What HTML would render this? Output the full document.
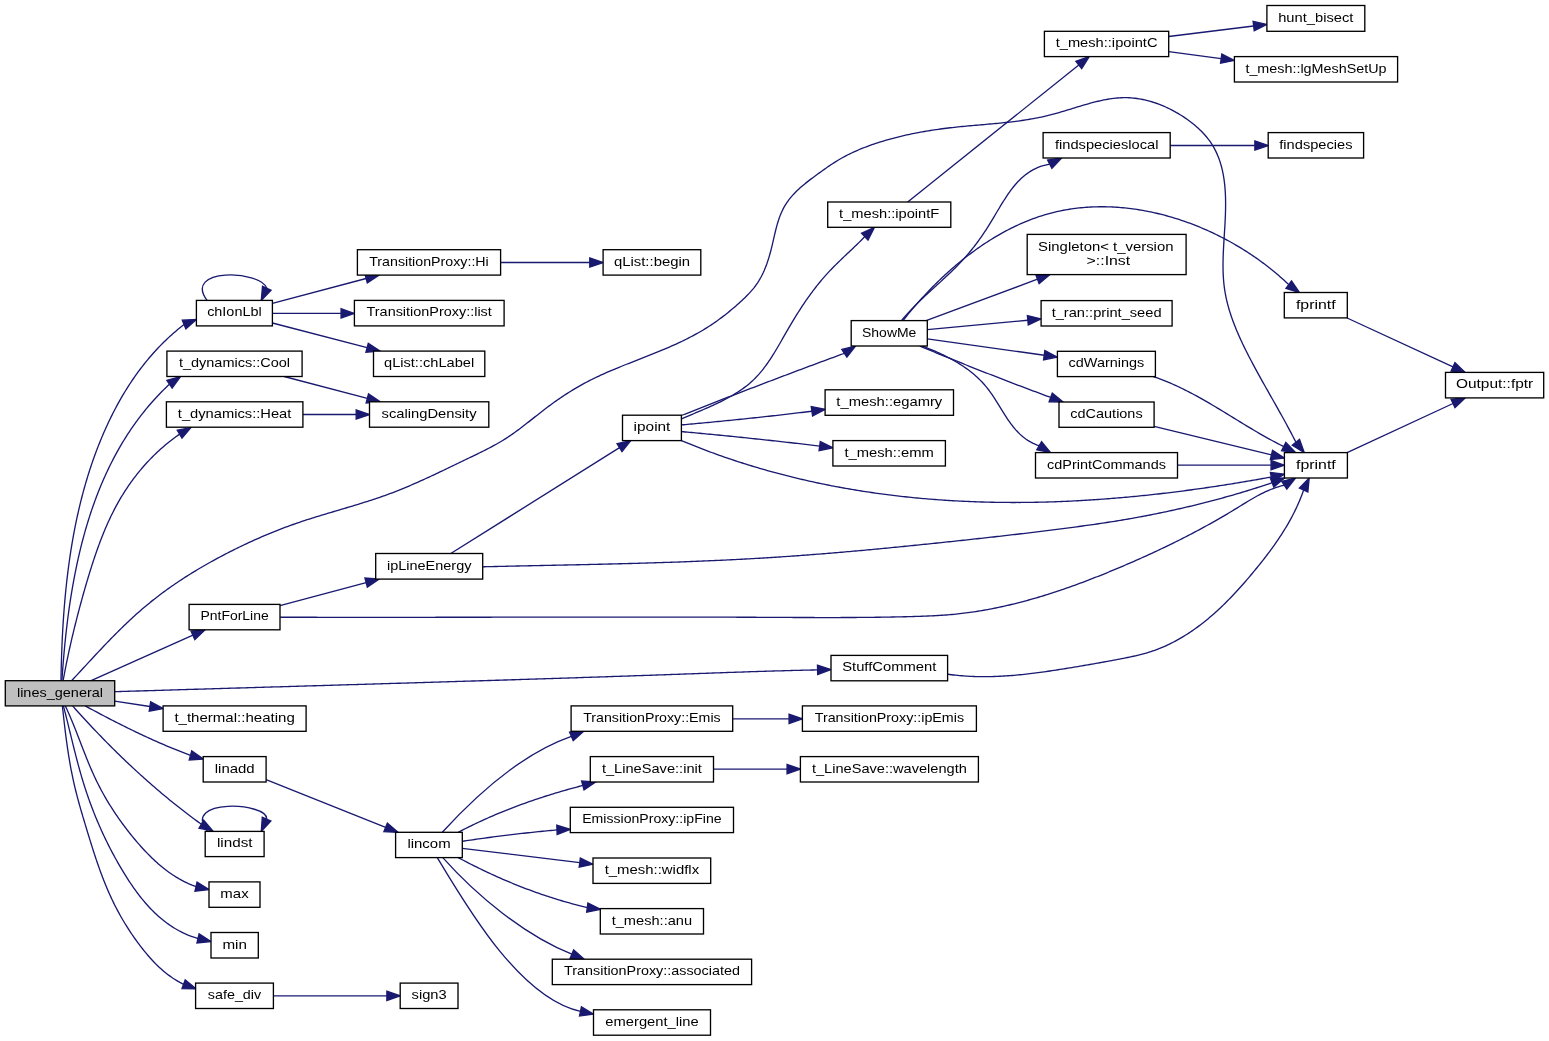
<!DOCTYPE html><html><head><meta charset="utf-8"><style>html,body{margin:0;padding:0;background:#fff;overflow:hidden}svg{display:block}</style></head><body>
<svg width="1549" height="1041" viewBox="0 0 1549 1041">
<rect width="1549" height="1041" fill="#ffffff"/>
<g fill="none" stroke="#191970" stroke-width="1.33">
<path d="M61.00,680.70L61.03,678.72L61.06,676.74L61.10,674.76L61.14,672.77L61.18,670.78L61.22,668.79L61.27,666.80L61.32,664.81L61.37,662.81L61.43,660.82L61.49,658.82L61.55,656.82L61.62,654.82L61.69,652.82L61.76,650.81L61.84,648.81L61.92,646.80L62.00,644.79L62.09,642.78L62.18,640.77L62.27,638.76L62.37,636.75L62.47,634.73L62.58,632.72L62.69,630.70L62.80,628.69L62.92,626.67L63.04,624.65L63.17,622.64L63.30,620.62L63.43,618.60L63.57,616.58L63.72,614.56L63.87,612.53L64.02,610.51L64.18,608.49L64.34,606.47L64.50,604.45L64.68,602.42L64.85,600.40L65.03,598.38L65.22,596.35L65.41,594.33L65.61,592.31L65.81,590.29L66.01,588.26L66.23,586.24L66.44,584.22L66.66,582.20L66.89,580.18L67.13,578.15L67.36,576.13L67.61,574.11L67.86,572.09L68.11,570.08L68.38,568.06L68.64,566.04L68.92,564.02L69.19,562.01L69.48,559.99L69.77,557.98L70.07,555.97L70.37,553.95L70.68,551.94L70.99,549.93L71.32,547.92L71.64,545.92L71.98,543.91L72.32,541.91L72.67,539.90L73.02,537.90L73.38,535.90L73.75,533.90L74.12,531.90L74.50,529.91L74.89,527.91L75.29,525.92L75.69,523.93L76.10,521.94L76.51,519.96L76.94,517.97L77.37,515.99L77.81,514.01L78.25,512.03L78.70,510.05L79.16,508.08L79.63,506.11L80.11,504.14L80.59,502.17L81.08,500.20L81.58,498.24L82.08,496.28L82.60,494.32L83.12,492.37L83.65,490.42L84.18,488.47L84.73,486.52L85.28,484.58L85.84,482.64L86.41,480.70L86.99,478.76L87.58,476.83L88.17,474.90L88.78,472.98L89.39,471.05L90.01,469.13L90.64,467.22L91.28,465.30L91.93,463.39L92.58,461.49L93.25,459.59L93.92,457.69L94.60,455.79L95.29,453.90L95.99,452.01L96.70,450.13L97.42,448.25L98.15,446.37L98.89,444.50L99.64,442.63L100.39,440.76L101.16,438.90L101.93,437.04L102.72,435.19L103.51,433.34L104.32,431.50L105.13,429.66L105.96,427.82L106.79,425.99L107.63,424.16L108.49,422.34L109.35,420.52L110.23,418.71L111.11,416.91L112.01,415.10L112.91,413.31L113.83,411.52L114.75,409.73L115.69,407.95L116.64,406.18L117.60,404.41L118.57,402.65L119.55,400.90L120.54,399.15L121.54,397.41L122.55,395.68L123.58,393.95L124.61,392.23L125.66,390.52L126.72,388.81L127.79,387.12L128.87,385.43L129.96,383.74L131.07,382.07L132.19,380.40L133.32,378.75L134.46,377.10L135.61,375.46L136.77,373.82L137.95,372.20L139.14,370.59L140.34,368.98L141.56,367.39L142.78,365.80L144.02,364.22L145.27,362.65L146.54,361.10L147.81,359.55L149.10,358.01L150.41,356.48L151.72,354.97L153.05,353.46L154.39,351.96L155.75,350.48L157.11,349.00L158.49,347.54L159.89,346.09L161.30,344.65L162.72,343.22L164.15,341.80L165.60,340.40L167.06,339.00L168.54,337.62L170.03,336.25L171.54,334.89L173.05,333.55L174.59,332.21L176.13,330.89L177.69,329.59L179.27,328.29L180.86,327.01L182.46,325.74L184.08,324.49"/><polygon fill="#191970" points="196.40,319.40 185.86,328.81 182.30,320.17"/>
<path d="M61.90,680.70L62.03,678.73L62.17,676.76L62.30,674.78L62.44,672.81L62.59,670.83L62.74,668.85L62.89,666.86L63.04,664.88L63.20,662.89L63.36,660.90L63.53,658.91L63.70,656.91L63.87,654.92L64.05,652.92L64.23,650.92L64.42,648.92L64.61,646.92L64.80,644.91L65.00,642.91L65.21,640.90L65.41,638.90L65.63,636.89L65.84,634.88L66.06,632.87L66.29,630.86L66.52,628.84L66.76,626.83L67.00,624.82L67.24,622.81L67.49,620.79L67.75,618.78L68.01,616.76L68.28,614.75L68.55,612.73L68.83,610.71L69.11,608.70L69.40,606.68L69.70,604.67L70.00,602.65L70.30,600.64L70.61,598.62L70.93,596.61L71.25,594.60L71.58,592.58L71.92,590.57L72.26,588.56L72.61,586.55L72.96,584.54L73.33,582.53L73.69,580.52L74.07,578.52L74.45,576.51L74.84,574.51L75.23,572.51L75.63,570.51L76.04,568.51L76.45,566.51L76.88,564.51L77.30,562.52L77.74,560.53L78.18,558.54L78.64,556.55L79.09,554.56L79.56,552.58L80.03,550.60L80.51,548.62L81.00,546.64L81.50,544.67L82.00,542.70L82.51,540.73L83.03,538.76L83.56,536.80L84.10,534.84L84.64,532.88L85.19,530.92L85.75,528.97L86.32,527.02L86.90,525.08L87.49,523.14L88.08,521.20L88.68,519.26L89.29,517.33L89.92,515.40L90.54,513.48L91.18,511.56L91.83,509.64L92.49,507.73L93.15,505.82L93.83,503.92L94.51,502.02L95.20,500.12L95.91,498.23L96.62,496.35L97.34,494.46L98.07,492.59L98.81,490.71L99.56,488.85L100.32,486.98L101.09,485.12L101.87,483.27L102.66,481.42L103.46,479.58L104.27,477.74L105.09,475.91L105.93,474.08L106.77,472.26L107.62,470.44L108.48,468.63L109.35,466.83L110.24,465.03L111.13,463.23L112.04,461.45L112.95,459.67L113.88,457.89L114.82,456.12L115.77,454.36L116.73,452.60L117.70,450.85L118.68,449.11L119.67,447.37L120.68,445.64L121.70,443.92L122.72,442.20L123.76,440.49L124.81,438.79L125.88,437.09L126.95,435.40L128.04,433.72L129.14,432.04L130.25,430.38L131.37,428.72L132.51,427.06L133.66,425.42L134.82,423.78L135.99,422.15L137.17,420.53L138.37,418.92L139.58,417.31L140.80,415.71L142.04,414.12L143.28,412.54L144.54,410.97L145.82,409.40L147.10,407.85L148.40,406.30L149.72,404.76L151.04,403.23L152.38,401.71L153.74,400.19L155.10,398.69L156.48,397.19L157.87,395.71L159.28,394.23L160.70,392.76L162.14,391.30L163.58,389.85L165.05,388.41L166.52,386.98L168.01,385.56L169.52,384.15"/><polygon fill="#191970" points="180.50,376.60 172.16,388.00 166.87,380.30"/>
<path d="M63.10,680.70L63.46,678.73L63.82,676.76L64.19,674.78L64.57,672.81L64.95,670.84L65.33,668.88L65.72,666.91L66.11,664.94L66.51,662.97L66.92,661.01L67.33,659.04L67.74,657.07L68.16,655.11L68.58,653.15L69.00,651.18L69.44,649.22L69.87,647.26L70.31,645.30L70.76,643.34L71.21,641.38L71.66,639.42L72.12,637.46L72.58,635.50L73.05,633.54L73.52,631.59L73.99,629.63L74.47,627.67L74.95,625.72L75.44,623.76L75.93,621.81L76.43,619.85L76.93,617.90L77.43,615.95L77.94,613.99L78.45,612.04L78.96,610.09L79.48,608.14L80.00,606.19L80.53,604.24L81.06,602.29L81.59,600.34L82.13,598.39L82.67,596.44L83.21,594.50L83.76,592.55L84.31,590.60L84.87,588.66L85.43,586.71L86.00,584.77L86.56,582.83L87.14,580.89L87.72,578.94L88.30,577.01L88.89,575.07L89.48,573.13L90.08,571.20L90.68,569.26L91.29,567.33L91.91,565.40L92.53,563.47L93.15,561.55L93.79,559.63L94.43,557.71L95.08,555.79L95.73,553.88L96.39,551.97L97.07,550.06L97.74,548.16L98.43,546.26L99.13,544.36L99.83,542.47L100.55,540.59L101.27,538.70L102.01,536.83L102.75,534.96L103.50,533.09L104.27,531.23L105.04,529.37L105.83,527.53L106.63,525.68L107.44,523.85L108.26,522.02L109.10,520.19L109.95,518.38L110.81,516.57L111.68,514.77L112.57,512.97L113.47,511.19L114.38,509.41L115.31,507.64L116.25,505.88L117.21,504.13L118.18,502.38L119.17,500.65L120.17,498.92L121.19,497.20L122.22,495.49L123.27,493.80L124.33,492.11L125.41,490.43L126.51,488.76L127.61,487.10L128.74,485.45L129.88,483.81L131.03,482.19L132.20,480.57L133.39,478.96L134.59,477.37L135.81,475.78L137.04,474.21L138.29,472.65L139.55,471.10L140.83,469.56L142.12,468.04L143.43,466.52L144.76,465.02L146.10,463.53L147.45,462.05L148.83,460.59L150.21,459.14L151.62,457.70L153.04,456.27L154.47,454.86L155.92,453.46L157.39,452.07L158.87,450.70L160.37,449.34L161.89,448.00L163.42,446.67L164.97,445.35L166.53,444.05L168.11,442.76L169.70,441.49L171.32,440.23L172.94,438.99L174.59,437.76L176.25,436.55L177.92,435.35L179.62,434.17"/><polygon fill="#191970" points="191.10,427.40 181.99,438.19 177.24,430.14"/>
<path d="M71.60,680.70L72.96,679.25L74.32,677.79L75.67,676.33L77.03,674.87L78.39,673.41L79.75,671.95L81.10,670.48L82.46,669.01L83.82,667.54L85.18,666.08L86.54,664.61L87.90,663.14L89.27,661.67L90.63,660.20L91.99,658.73L93.36,657.26L94.73,655.79L96.10,654.32L97.47,652.86L98.85,651.39L100.23,649.93L101.61,648.47L102.99,647.01L104.38,645.55L105.76,644.10L107.16,642.65L108.55,641.20L109.95,639.76L111.35,638.32L112.76,636.88L114.17,635.45L115.58,634.02L117.00,632.60L118.42,631.18L119.85,629.77L121.28,628.36L122.72,626.95L124.16,625.56L125.61,624.17L127.06,622.78L128.52,621.40L129.98,620.03L131.45,618.66L132.93,617.30L134.41,615.95L135.90,614.61L137.39,613.27L138.89,611.95L140.40,610.63L141.91,609.32L143.43,608.01L144.96,606.72L146.50,605.44L148.04,604.16L149.59,602.89L151.15,601.64L152.71,600.39L154.28,599.15L155.86,597.92L157.44,596.69L159.03,595.48L160.63,594.27L162.23,593.08L163.84,591.89L165.46,590.71L167.08,589.54L168.71,588.37L170.34,587.22L171.98,586.07L173.63,584.93L175.28,583.80L176.93,582.68L178.59,581.56L180.26,580.45L181.94,579.35L183.61,578.26L185.30,577.18L186.99,576.10L188.68,575.03L190.38,573.97L192.08,572.91L193.79,571.86L195.50,570.82L197.22,569.79L198.94,568.76L200.66,567.75L202.39,566.73L204.13,565.73L205.87,564.73L207.61,563.74L209.36,562.75L211.11,561.78L212.86,560.81L214.62,559.84L216.38,558.88L218.14,557.93L219.91,556.99L221.68,556.05L223.46,555.11L225.24,554.19L227.02,553.27L228.80,552.35L230.59,551.44L232.38,550.54L234.17,549.65L235.97,548.76L237.77,547.87L239.57,546.99L241.37,546.12L243.18,545.26L244.99,544.40L246.80,543.55L248.62,542.70L250.44,541.86L252.26,541.03L254.09,540.21L255.91,539.39L257.74,538.58L259.58,537.77L261.41,536.97L263.25,536.18L265.10,535.40L266.94,534.62L268.79,533.85L270.64,533.08L272.49,532.33L274.35,531.58L276.21,530.84L278.07,530.10L279.94,529.38L281.81,528.66L283.68,527.94L285.55,527.24L287.43,526.54L289.31,525.85L291.19,525.17L293.08,524.50L294.97,523.83L296.86,523.17L298.75,522.52L300.65,521.88L302.55,521.24L304.45,520.61L306.36,519.99L308.27,519.37L310.18,518.76L312.09,518.15L314.00,517.55L315.91,516.96L317.83,516.36L319.75,515.78L321.67,515.19L323.59,514.61L325.51,514.03L327.43,513.45L329.35,512.88L331.27,512.31L333.20,511.74L335.12,511.17L337.05,510.60L338.97,510.03L340.89,509.46L342.82,508.89L344.74,508.32L346.66,507.74L348.59,507.17L350.51,506.60L352.43,506.02L354.35,505.44L356.26,504.86L358.18,504.27L360.10,503.68L362.01,503.09L363.92,502.49L365.83,501.89L367.74,501.28L369.65,500.67L371.55,500.05L373.45,499.42L375.35,498.79L377.24,498.15L379.14,497.51L381.03,496.86L382.91,496.19L384.80,495.53L386.68,494.85L388.55,494.16L390.43,493.46L392.30,492.76L394.16,492.04L396.02,491.32L397.88,490.59L399.74,489.85L401.59,489.10L403.44,488.34L405.29,487.58L407.13,486.81L408.97,486.03L410.81,485.24L412.65,484.45L414.48,483.65L416.31,482.85L418.14,482.04L419.97,481.22L421.79,480.40L423.62,479.58L425.44,478.75L427.26,477.91L429.08,477.07L430.90,476.23L432.71,475.38L434.53,474.53L436.34,473.67L438.15,472.82L439.97,471.95L441.78,471.09L443.59,470.23L445.40,469.36L447.21,468.49L449.02,467.62L450.83,466.75L452.63,465.88L454.44,465.00L456.25,464.13L458.06,463.26L459.87,462.38L461.68,461.51L463.49,460.64L465.31,459.76L467.12,458.89L468.93,458.02L470.75,457.15L472.56,456.28L474.37,455.41L476.18,454.53L477.99,453.66L479.80,452.77L481.60,451.88L483.39,450.99L485.19,450.09L486.97,449.18L488.75,448.26L490.53,447.33L492.30,446.38L494.05,445.43L495.80,444.46L497.54,443.48L499.28,442.49L501.00,441.47L502.70,440.45L504.40,439.40L506.09,438.33L507.76,437.25L509.42,436.14L511.07,435.02L512.70,433.88L514.33,432.73L515.95,431.56L517.56,430.38L519.17,429.19L520.76,427.99L522.35,426.78L523.94,425.56L525.52,424.34L527.10,423.10L528.67,421.87L530.25,420.63L531.82,419.38L533.39,418.14L534.96,416.89L536.53,415.65L538.11,414.41L539.69,413.17L541.27,411.93L542.85,410.70L544.44,409.48L546.04,408.27L547.64,407.06L549.25,405.86L550.86,404.67L552.48,403.49L554.11,402.32L555.75,401.16L557.39,400.01L559.03,398.87L560.69,397.74L562.35,396.62L564.02,395.51L565.69,394.41L567.37,393.33L569.06,392.25L570.76,391.19L572.46,390.14L574.17,389.11L575.89,388.09L577.62,387.08L579.35,386.08L581.09,385.10L582.84,384.13L584.60,383.18L586.36,382.25L588.13,381.32L589.91,380.41L591.70,379.51L593.49,378.63L595.29,377.75L597.09,376.89L598.91,376.04L600.72,375.20L602.54,374.37L604.37,373.55L606.20,372.73L608.04,371.93L609.88,371.13L611.72,370.35L613.57,369.56L615.42,368.79L617.27,368.02L619.13,367.26L620.99,366.50L622.85,365.75L624.71,365.00L626.58,364.25L628.44,363.51L630.31,362.77L632.18,362.03L634.05,361.30L635.92,360.56L637.79,359.83L639.66,359.09L641.53,358.36L643.40,357.63L645.27,356.89L647.13,356.15L649.00,355.42L650.86,354.67L652.73,353.93L654.59,353.18L656.44,352.43L658.30,351.67L660.15,350.91L662.00,350.15L663.85,349.37L665.69,348.60L667.53,347.81L669.37,347.02L671.20,346.22L673.03,345.41L674.85,344.59L676.67,343.77L678.48,342.93L680.29,342.08L682.09,341.23L683.89,340.36L685.68,339.48L687.46,338.59L689.24,337.69L691.01,336.77L692.78,335.84L694.53,334.90L696.28,333.94L698.02,332.97L699.76,331.98L701.48,330.98L703.20,329.96L704.90,328.92L706.60,327.87L708.29,326.80L709.97,325.71L711.65,324.60L713.31,323.48L714.96,322.34L716.60,321.18L718.24,320.01L719.86,318.82L721.48,317.61L723.09,316.39L724.69,315.16L726.27,313.91L727.86,312.65L729.43,311.37L730.99,310.08L732.55,308.78L734.10,307.47L735.63,306.14L737.16,304.80L738.69,303.45L740.20,302.09L741.70,300.72L743.18,299.33L744.65,297.93L746.09,296.51L747.51,295.07L748.90,293.62L750.26,292.14L751.59,290.64L752.88,289.12L754.13,287.57L755.33,286.00L756.49,284.40L757.60,282.77L758.66,281.12L759.68,279.44L760.65,277.73L761.58,276.00L762.46,274.24L763.31,272.47L764.12,270.67L764.89,268.85L765.63,267.02L766.34,265.16L767.02,263.29L767.66,261.40L768.28,259.50L768.88,257.59L769.45,255.66L770.00,253.72L770.53,251.77L771.05,249.81L771.54,247.85L772.03,245.87L772.50,243.89L772.96,241.91L773.41,239.92L773.87,237.94L774.32,235.95L774.78,233.97L775.25,232.00L775.73,230.03L776.23,228.07L776.75,226.12L777.29,224.19L777.86,222.27L778.46,220.37L779.09,218.48L779.76,216.62L780.47,214.77L781.23,212.96L782.03,211.16L782.89,209.40L783.80,207.67L784.77,205.96L785.79,204.29L786.87,202.65L788.00,201.04L789.19,199.46L790.41,197.91L791.69,196.39L793.00,194.90L794.36,193.44L795.75,192.00L797.18,190.59L798.65,189.21L800.14,187.85L801.66,186.51L803.20,185.20L804.76,183.90L806.35,182.63L807.95,181.36L809.56,180.12L811.19,178.88L812.82,177.66L814.45,176.45L816.09,175.25L817.73,174.05L819.37,172.86L821.01,171.68L822.65,170.50L824.29,169.34L825.93,168.19L827.58,167.05L829.23,165.92L830.88,164.81L832.55,163.71L834.22,162.63L835.90,161.57L837.60,160.53L839.30,159.51L841.02,158.51L842.75,157.54L844.49,156.59L846.25,155.66L848.02,154.75L849.80,153.87L851.59,153.00L853.39,152.16L855.21,151.34L857.03,150.53L858.87,149.75L860.71,148.98L862.56,148.23L864.42,147.50L866.29,146.78L868.16,146.08L870.04,145.40L871.93,144.73L873.82,144.08L875.72,143.44L877.62,142.81L879.53,142.20L881.45,141.60L883.36,141.02L885.28,140.44L887.21,139.88L889.14,139.34L891.07,138.80L893.01,138.28L894.95,137.77L896.89,137.27L898.84,136.79L900.79,136.31L902.75,135.85L904.70,135.40L906.66,134.95L908.63,134.53L910.59,134.11L912.56,133.70L914.53,133.30L916.50,132.91L918.48,132.54L920.46,132.17L922.44,131.81L924.42,131.47L926.40,131.13L928.38,130.80L930.37,130.48L932.35,130.17L934.34,129.87L936.33,129.58L938.32,129.30L940.31,129.02L942.30,128.75L944.29,128.50L946.29,128.24L948.28,128.00L950.27,127.77L952.26,127.54L954.25,127.32L956.25,127.10L958.24,126.90L960.23,126.70L962.22,126.50L964.21,126.31L966.20,126.12L968.19,125.94L970.18,125.76L972.17,125.58L974.16,125.41L976.15,125.24L978.14,125.07L980.13,124.90L982.12,124.72L984.10,124.55L986.09,124.38L988.08,124.21L990.06,124.03L992.05,123.85L994.03,123.67L996.01,123.49L998.00,123.30L999.98,123.11L1001.96,122.91L1003.94,122.70L1005.92,122.49L1007.90,122.27L1009.88,122.05L1011.86,121.82L1013.84,121.58L1015.82,121.33L1017.79,121.07L1019.77,120.80L1021.74,120.52L1023.72,120.23L1025.69,119.93L1027.66,119.61L1029.63,119.28L1031.60,118.94L1033.57,118.59L1035.54,118.22L1037.51,117.84L1039.47,117.44L1041.44,117.03L1043.40,116.60L1045.37,116.15L1047.33,115.69L1049.29,115.21L1051.25,114.71L1053.21,114.19L1055.16,113.66L1057.12,113.11L1059.08,112.55L1061.03,111.98L1062.98,111.40L1064.94,110.81L1066.89,110.22L1068.84,109.62L1070.79,109.02L1072.74,108.42L1074.69,107.82L1076.64,107.22L1078.59,106.63L1080.53,106.04L1082.48,105.46L1084.43,104.88L1086.37,104.32L1088.32,103.77L1090.26,103.23L1092.21,102.70L1094.15,102.20L1096.10,101.71L1098.04,101.24L1099.99,100.79L1101.93,100.37L1103.88,99.97L1105.82,99.60L1107.77,99.26L1109.71,98.94L1111.66,98.66L1113.60,98.41L1115.55,98.19L1117.49,98.01L1119.44,97.87L1121.38,97.77L1123.33,97.71L1125.28,97.69L1127.22,97.71L1129.17,97.78L1131.12,97.90L1133.07,98.06L1135.01,98.27L1136.96,98.52L1138.90,98.81L1140.84,99.14L1142.78,99.52L1144.71,99.93L1146.64,100.39L1148.57,100.88L1150.49,101.42L1152.41,101.99L1154.31,102.60L1156.22,103.25L1158.11,103.93L1160.00,104.65L1161.88,105.40L1163.75,106.19L1165.61,107.01L1167.46,107.87L1169.31,108.75L1171.14,109.67L1172.96,110.62L1174.76,111.60L1176.56,112.61L1178.34,113.65L1180.11,114.71L1181.87,115.81L1183.61,116.93L1185.33,118.08L1187.04,119.26L1188.72,120.46L1190.37,121.69L1192.01,122.95L1193.62,124.24L1195.19,125.55L1196.74,126.89L1198.26,128.26L1199.74,129.65L1201.19,131.07L1202.61,132.51L1203.98,133.99L1205.31,135.48L1206.60,137.01L1207.85,138.56L1209.05,140.13L1210.20,141.73L1211.31,143.36L1212.36,145.01L1213.37,146.68L1214.32,148.38L1215.23,150.11L1216.09,151.85L1216.91,153.62L1217.68,155.40L1218.41,157.21L1219.09,159.03L1219.73,160.88L1220.34,162.74L1220.90,164.61L1221.43,166.51L1221.92,168.42L1222.37,170.34L1222.79,172.27L1223.17,174.22L1223.52,176.18L1223.84,178.15L1224.13,180.13L1224.39,182.12L1224.62,184.12L1224.82,186.13L1225.00,188.14L1225.15,190.17L1225.28,192.19L1225.39,194.22L1225.47,196.26L1225.53,198.29L1225.57,200.33L1225.60,202.38L1225.60,204.42L1225.59,206.46L1225.57,208.50L1225.53,210.54L1225.47,212.58L1225.41,214.61L1225.33,216.65L1225.25,218.68L1225.15,220.71L1225.05,222.73L1224.94,224.76L1224.82,226.78L1224.70,228.80L1224.58,230.81L1224.45,232.83L1224.32,234.84L1224.19,236.85L1224.07,238.86L1223.94,240.87L1223.82,242.87L1223.71,244.87L1223.60,246.87L1223.49,248.87L1223.39,250.86L1223.30,252.86L1223.23,254.85L1223.16,256.84L1223.10,258.82L1223.06,260.81L1223.03,262.79L1223.02,264.77L1223.02,266.75L1223.04,268.72L1223.08,270.70L1223.14,272.67L1223.22,274.64L1223.32,276.60L1223.45,278.57L1223.60,280.53L1223.77,282.49L1223.97,284.45L1224.20,286.41L1224.46,288.36L1224.75,290.31L1225.06,292.26L1225.41,294.21L1225.79,296.16L1226.19,298.10L1226.63,300.04L1227.09,301.98L1227.57,303.91L1228.09,305.85L1228.62,307.78L1229.18,309.70L1229.77,311.62L1230.38,313.54L1231.01,315.46L1231.66,317.37L1232.33,319.28L1233.02,321.18L1233.73,323.08L1234.46,324.98L1235.21,326.87L1235.97,328.75L1236.75,330.64L1237.55,332.51L1238.35,334.38L1239.18,336.25L1240.01,338.11L1240.86,339.97L1241.72,341.82L1242.59,343.67L1243.47,345.51L1244.36,347.34L1245.26,349.17L1246.17,350.99L1247.08,352.81L1248.00,354.62L1248.93,356.43L1249.86,358.22L1250.79,360.01L1251.73,361.80L1252.67,363.58L1253.62,365.35L1254.57,367.11L1255.52,368.87L1256.47,370.63L1257.42,372.38L1258.38,374.12L1259.34,375.87L1260.30,377.60L1261.27,379.34L1262.23,381.07L1263.20,382.80L1264.17,384.53L1265.14,386.25L1266.11,387.97L1267.08,389.69L1268.05,391.41L1269.03,393.13L1270.00,394.85L1270.97,396.57L1271.95,398.28L1272.92,400.00L1273.90,401.72L1274.87,403.44L1275.84,405.16L1276.82,406.89L1277.79,408.61L1278.76,410.34L1279.73,412.07L1280.70,413.81L1281.66,415.55L1282.63,417.29L1283.59,419.03L1284.55,420.78L1285.51,422.54L1286.47,424.30L1287.43,426.06L1288.38,427.83L1289.33,429.61L1290.28,431.39L1291.23,433.18L1292.17,434.98L1293.11,436.79L1294.04,438.60L1294.97,440.42L1295.90,442.25"/><polygon fill="#191970" points="1304.30,452.60 1292.27,445.19 1299.53,439.31"/>
<path d="M91.10,680.70L192.93,635.23"/><polygon fill="#191970" points="205.10,629.80 194.83,639.50 191.02,630.97"/>
<path d="M114.70,691.70L116.71,691.64L118.72,691.58L120.72,691.52L122.73,691.45L124.74,691.39L126.75,691.33L128.76,691.27L130.77,691.21L132.77,691.15L134.78,691.09L136.79,691.03L138.80,690.97L140.81,690.91L142.82,690.84L144.82,690.78L146.83,690.72L148.84,690.66L150.85,690.60L152.86,690.54L154.87,690.48L156.87,690.42L158.88,690.36L160.89,690.30L162.90,690.24L164.91,690.18L166.91,690.12L168.92,690.06L170.93,690.00L172.94,689.94L174.95,689.88L176.96,689.82L178.96,689.76L180.97,689.70L182.98,689.64L184.99,689.58L187.00,689.52L189.01,689.46L191.01,689.40L193.02,689.34L195.03,689.28L197.04,689.22L199.05,689.16L201.06,689.10L203.06,689.04L205.07,688.98L207.08,688.92L209.09,688.86L211.10,688.80L213.11,688.74L215.11,688.68L217.12,688.62L219.13,688.56L221.14,688.50L223.15,688.44L225.16,688.39L227.16,688.33L229.17,688.27L231.18,688.21L233.19,688.15L235.20,688.09L237.21,688.03L239.21,687.97L241.22,687.91L243.23,687.85L245.24,687.79L247.25,687.73L249.25,687.67L251.26,687.61L253.27,687.55L255.28,687.50L257.29,687.44L259.30,687.38L261.30,687.32L263.31,687.26L265.32,687.20L267.33,687.14L269.34,687.08L271.35,687.02L273.35,686.96L275.36,686.90L277.37,686.85L279.38,686.79L281.39,686.73L283.40,686.67L285.40,686.61L287.41,686.55L289.42,686.49L291.43,686.43L293.44,686.37L295.45,686.31L297.45,686.25L299.46,686.19L301.47,686.14L303.48,686.08L305.49,686.02L307.50,685.96L309.50,685.90L311.51,685.84L313.52,685.78L315.53,685.72L317.54,685.66L319.55,685.60L321.55,685.54L323.56,685.49L325.57,685.43L327.58,685.37L329.59,685.31L331.60,685.25L333.60,685.19L335.61,685.13L337.62,685.07L339.63,685.01L341.64,684.95L343.65,684.89L345.65,684.83L347.66,684.77L349.67,684.71L351.68,684.65L353.69,684.60L355.69,684.54L357.70,684.48L359.71,684.42L361.72,684.36L363.73,684.30L365.74,684.24L367.74,684.18L369.75,684.12L371.76,684.06L373.77,684.00L375.78,683.94L377.79,683.88L379.79,683.82L381.80,683.76L383.81,683.70L385.82,683.64L387.83,683.58L389.84,683.52L391.84,683.46L393.85,683.40L395.86,683.34L397.87,683.28L399.88,683.22L401.89,683.16L403.89,683.10L405.90,683.04L407.91,682.98L409.92,682.92L411.93,682.86L413.93,682.80L415.94,682.74L417.95,682.68L419.96,682.62L421.97,682.56L423.98,682.50L425.98,682.44L427.99,682.38L430.00,682.31L432.01,682.25L434.02,682.19L436.03,682.13L438.03,682.07L440.04,682.01L442.05,681.95L444.06,681.89L446.07,681.83L448.08,681.77L450.08,681.71L452.09,681.64L454.10,681.58L456.11,681.52L458.12,681.46L460.12,681.40L462.13,681.34L464.14,681.28L466.15,681.21L468.16,681.15L470.17,681.09L472.17,681.03L474.18,680.97L476.19,680.91L478.20,680.84L480.21,680.78L482.21,680.72L484.22,680.66L486.23,680.59L488.24,680.53L490.25,680.47L492.26,680.41L494.26,680.35L496.27,680.28L498.28,680.22L500.29,680.16L502.30,680.09L504.31,680.03L506.31,679.97L508.32,679.91L510.33,679.84L512.34,679.78L514.35,679.72L516.35,679.65L518.36,679.59L520.37,679.53L522.38,679.46L524.39,679.40L526.40,679.34L528.40,679.27L530.41,679.21L532.42,679.15L534.43,679.08L536.44,679.02L538.44,678.95L540.45,678.89L542.46,678.82L544.47,678.76L546.48,678.70L548.48,678.63L550.49,678.57L552.50,678.50L554.51,678.44L556.52,678.37L558.53,678.31L560.53,678.24L562.54,678.18L564.55,678.11L566.56,678.05L568.57,677.98L570.57,677.92L572.58,677.85L574.59,677.79L576.60,677.72L578.61,677.65L580.61,677.59L582.62,677.52L584.63,677.46L586.64,677.39L588.65,677.32L590.66,677.26L592.66,677.19L594.67,677.13L596.68,677.06L598.69,676.99L600.70,676.92L602.70,676.86L604.71,676.79L606.72,676.72L608.73,676.66L610.74,676.59L612.74,676.52L614.75,676.45L616.76,676.39L618.77,676.32L620.78,676.25L622.78,676.18L624.79,676.12L626.80,676.05L628.81,675.98L630.82,675.91L632.82,675.84L634.83,675.77L636.84,675.70L638.85,675.64L640.86,675.57L642.86,675.50L644.87,675.43L646.88,675.36L648.89,675.29L650.90,675.22L652.90,675.15L654.91,675.08L656.92,675.01L658.93,674.94L660.94,674.87L662.94,674.80L664.95,674.73L666.96,674.66L668.97,674.59L670.98,674.52L672.98,674.45L674.99,674.38L677.00,674.31L679.01,674.24L681.02,674.16L683.02,674.09L685.03,674.02L687.04,673.95L689.05,673.88L691.06,673.81L693.06,673.73L695.07,673.66L697.08,673.59L699.09,673.52L701.10,673.45L703.10,673.38L705.11,673.30L707.12,673.23L709.13,673.16L711.14,673.09L713.14,673.02L715.15,672.95L717.16,672.88L719.17,672.81L721.18,672.74L723.18,672.67L725.19,672.59L727.20,672.53L729.21,672.46L731.22,672.39L733.22,672.32L735.23,672.25L737.24,672.18L739.25,672.11L741.26,672.04L743.26,671.98L745.27,671.91L747.28,671.84L749.29,671.78L751.30,671.71L753.30,671.65L755.31,671.58L757.32,671.52L759.33,671.45L761.34,671.39L763.35,671.33L765.35,671.27L767.36,671.20L769.37,671.14L771.38,671.08L773.39,671.02L775.39,670.96L777.40,670.91L779.41,670.85L781.42,670.79L783.43,670.73L785.44,670.68L787.44,670.62L789.45,670.57L791.46,670.52L793.47,670.46L795.48,670.41L797.49,670.36L799.50,670.31L801.50,670.26L803.51,670.21L805.52,670.16L807.53,670.12L809.54,670.07L811.55,670.03L813.56,669.98L815.56,669.94L817.57,669.90"/><polygon fill="#191970" points="830.90,669.60 817.68,674.57 817.47,665.23"/>
<path d="M114.70,701.20L149.92,706.51"/><polygon fill="#191970" points="163.10,708.50 149.22,711.13 150.62,701.89"/>
<path d="M85.20,705.90L86.99,706.87L88.79,707.85L90.59,708.82L92.38,709.78L94.18,710.75L95.99,711.71L97.79,712.67L99.59,713.62L101.40,714.58L103.21,715.53L105.02,716.48L106.83,717.42L108.64,718.36L110.46,719.30L112.27,720.23L114.09,721.16L115.91,722.09L117.73,723.01L119.56,723.93L121.38,724.85L123.21,725.76L125.04,726.67L126.87,727.58L128.70,728.48L130.54,729.37L132.38,730.27L134.22,731.15L136.06,732.04L137.90,732.92L139.75,733.79L141.60,734.66L143.45,735.53L145.30,736.39L147.15,737.24L149.01,738.10L150.87,738.94L152.73,739.78L154.59,740.62L156.46,741.45L158.33,742.27L160.20,743.09L162.07,743.91L163.94,744.72L165.82,745.52L167.70,746.32L169.58,747.11L171.47,747.89L173.36,748.67L175.25,749.45L177.14,750.22L179.03,750.98L180.93,751.73L182.83,752.48L184.74,753.22L186.64,753.96L188.55,754.69L190.46,755.41"/><polygon fill="#191970" points="203.30,759.00 189.21,759.91 191.72,750.92"/>
<path d="M72.60,705.90L73.96,707.42L75.32,708.94L76.68,710.46L78.05,711.97L79.42,713.49L80.79,714.99L82.17,716.50L83.54,718.00L84.92,719.50L86.31,721.00L87.70,722.50L89.09,723.99L90.48,725.48L91.87,726.96L93.27,728.45L94.68,729.93L96.08,731.40L97.49,732.88L98.90,734.35L100.32,735.81L101.73,737.28L103.15,738.74L104.58,740.20L106.01,741.65L107.44,743.10L108.87,744.55L110.31,745.99L111.75,747.43L113.19,748.87L114.64,750.31L116.09,751.74L117.54,753.16L119.00,754.59L120.46,756.01L121.92,757.42L123.39,758.84L124.86,760.25L126.33,761.65L127.81,763.05L129.29,764.45L130.77,765.85L132.26,767.24L133.75,768.62L135.24,770.01L136.74,771.38L138.24,772.76L139.75,774.13L141.25,775.50L142.77,776.86L144.28,778.22L145.80,779.58L147.32,780.93L148.85,782.27L150.38,783.62L151.91,784.96L153.45,786.29L154.99,787.62L156.54,788.95L158.08,790.27L159.64,791.59L161.19,792.90L162.75,794.21L164.31,795.51L165.88,796.81L167.45,798.11L169.03,799.40L170.61,800.69L172.19,801.97L173.77,803.25L175.36,804.52L176.96,805.79L178.56,807.05L180.16,808.31L181.76,809.57L183.37,810.82L184.99,812.06L186.61,813.30L188.23,814.54L189.85,815.77L191.48,816.99L193.12,818.22L194.76,819.43L196.40,820.64L198.04,821.85L199.69,823.05L201.35,824.25"/><polygon fill="#191970" points="212.90,830.90 199.02,828.29 203.68,820.20"/>
<path d="M65.30,705.90L66.16,707.74L67.02,709.59L67.85,711.44L68.68,713.30L69.49,715.16L70.30,717.03L71.09,718.90L71.88,720.78L72.65,722.66L73.42,724.54L74.18,726.43L74.94,728.32L75.69,730.21L76.43,732.10L77.17,734.00L77.91,735.89L78.65,737.79L79.38,739.69L80.11,741.59L80.84,743.49L81.58,745.39L82.31,747.29L83.04,749.18L83.78,751.08L84.52,752.97L85.27,754.86L86.02,756.75L86.77,758.64L87.54,760.52L88.31,762.40L89.08,764.28L89.87,766.15L90.66,768.02L91.46,769.88L92.28,771.74L93.11,773.59L93.94,775.44L94.80,777.28L95.66,779.11L96.54,780.94L97.43,782.76L98.34,784.57L99.26,786.37L100.20,788.17L101.15,789.96L102.11,791.75L103.09,793.52L104.08,795.29L105.09,797.05L106.11,798.81L107.14,800.56L108.19,802.30L109.24,804.03L110.31,805.75L111.40,807.47L112.49,809.18L113.60,810.89L114.72,812.59L115.86,814.27L117.00,815.96L118.16,817.63L119.33,819.30L120.51,820.96L121.70,822.61L122.90,824.26L124.12,825.89L125.34,827.52L126.58,829.15L127.83,830.76L129.08,832.37L130.35,833.97L131.63,835.56L132.92,837.14L134.22,838.72L135.54,840.28L136.86,841.84L138.19,843.38L139.54,844.92L140.90,846.44L142.26,847.95L143.64,849.45L145.04,850.94L146.44,852.41L147.85,853.87L149.28,855.32L150.72,856.75L152.17,858.16L153.64,859.56L155.12,860.94L156.62,862.30L158.13,863.64L159.65,864.96L161.19,866.26L162.75,867.54L164.32,868.80L165.91,870.03L167.52,871.24L169.15,872.42L170.79,873.58L172.46,874.71L174.14,875.81L175.84,876.89L177.57,877.93L179.31,878.95L181.07,879.93L182.86,880.88L184.67,881.80L186.50,882.69L188.36,883.55L190.23,884.36L192.13,885.15L194.06,885.89L196.01,886.60"/><polygon fill="#191970" points="209.00,889.60 194.96,891.15 197.06,882.05"/>
<path d="M63.40,705.90L63.92,707.87L64.43,709.84L64.93,711.80L65.44,713.77L65.93,715.74L66.43,717.71L66.92,719.69L67.41,721.66L67.90,723.63L68.39,725.60L68.87,727.57L69.35,729.54L69.84,731.51L70.32,733.48L70.80,735.45L71.28,737.42L71.76,739.39L72.25,741.36L72.73,743.33L73.22,745.29L73.71,747.26L74.20,749.23L74.69,751.19L75.19,753.15L75.69,755.11L76.20,757.07L76.71,759.03L77.22,760.99L77.74,762.94L78.26,764.89L78.79,766.84L79.33,768.79L79.87,770.74L80.42,772.68L80.98,774.63L81.54,776.57L82.11,778.50L82.70,780.44L83.28,782.37L83.88,784.30L84.49,786.23L85.11,788.15L85.73,790.07L86.37,791.99L87.01,793.91L87.67,795.82L88.33,797.73L89.01,799.63L89.69,801.54L90.39,803.44L91.09,805.33L91.80,807.22L92.52,809.11L93.25,811.00L93.99,812.88L94.75,814.76L95.51,816.64L96.28,818.51L97.06,820.38L97.84,822.25L98.64,824.11L99.45,825.97L100.27,827.82L101.10,829.67L101.94,831.52L102.78,833.36L103.64,835.20L104.51,837.04L105.38,838.87L106.27,840.70L107.17,842.52L108.07,844.34L108.99,846.16L109.91,847.97L110.85,849.78L111.80,851.58L112.75,853.38L113.72,855.18L114.69,856.97L115.68,858.76L116.67,860.54L117.67,862.32L118.69,864.09L119.71,865.86L120.75,867.63L121.79,869.39L122.84,871.14L123.91,872.89L124.98,874.64L126.07,876.38L127.17,878.11L128.27,879.83L129.40,881.54L130.53,883.25L131.67,884.95L132.83,886.63L134.00,888.30L135.19,889.97L136.39,891.61L137.61,893.25L138.83,894.87L140.08,896.48L141.34,898.07L142.62,899.64L143.91,901.20L145.22,902.74L146.54,904.26L147.89,905.76L149.25,907.25L150.63,908.71L152.02,910.15L153.44,911.57L154.88,912.96L156.33,914.34L157.81,915.69L159.30,917.01L160.82,918.31L162.35,919.58L163.91,920.83L165.49,922.05L167.09,923.24L168.72,924.40L170.36,925.53L172.03,926.63L173.73,927.70L175.44,928.74L177.19,929.75L178.95,930.72L180.74,931.66L182.56,932.57L184.40,933.44L186.27,934.27L188.16,935.07L190.08,935.83L192.03,936.55L194.01,937.24L196.01,937.88L198.04,938.49"/><polygon fill="#191970" points="211.00,941.60 196.95,943.03 199.13,933.94"/>
<path d="M62.40,705.90L62.61,707.91L62.83,709.93L63.05,711.94L63.26,713.96L63.48,715.97L63.71,717.98L63.93,720.00L64.16,722.01L64.39,724.02L64.63,726.03L64.87,728.04L65.11,730.05L65.36,732.06L65.61,734.07L65.87,736.07L66.13,738.08L66.40,740.08L66.67,742.09L66.95,744.09L67.23,746.09L67.52,748.10L67.82,750.10L68.12,752.09L68.43,754.09L68.75,756.09L69.07,758.08L69.41,760.08L69.75,762.07L70.09,764.06L70.45,766.05L70.82,768.03L71.19,770.02L71.58,772.00L71.97,773.98L72.38,775.96L72.79,777.94L73.21,779.92L73.65,781.89L74.09,783.86L74.55,785.83L75.02,787.80L75.49,789.76L75.98,791.73L76.48,793.69L76.98,795.65L77.50,797.61L78.02,799.57L78.55,801.52L79.09,803.47L79.63,805.43L80.18,807.38L80.74,809.32L81.30,811.27L81.87,813.22L82.44,815.16L83.01,817.11L83.59,819.05L84.17,820.99L84.76,822.93L85.34,824.87L85.93,826.81L86.52,828.75L87.10,830.69L87.69,832.63L88.28,834.56L88.88,836.50L89.47,838.43L90.07,840.37L90.67,842.30L91.27,844.23L91.88,846.16L92.49,848.08L93.10,850.01L93.72,851.93L94.35,853.85L94.98,855.77L95.61,857.69L96.25,859.60L96.90,861.51L97.56,863.42L98.22,865.32L98.89,867.22L99.56,869.12L100.25,871.02L100.94,872.91L101.65,874.80L102.36,876.69L103.08,878.57L103.81,880.44L104.56,882.32L105.31,884.19L106.08,886.05L106.85,887.91L107.64,889.77L108.44,891.62L109.25,893.47L110.08,895.31L110.92,897.14L111.77,898.98L112.64,900.80L113.52,902.62L114.42,904.44L115.33,906.25L116.26,908.05L117.20,909.85L118.16,911.64L119.13,913.43L120.11,915.20L121.11,916.97L122.13,918.74L123.16,920.49L124.20,922.24L125.26,923.98L126.33,925.72L127.41,927.44L128.51,929.15L129.62,930.86L130.74,932.56L131.88,934.25L133.03,935.92L134.19,937.59L135.37,939.25L136.55,940.90L137.76,942.54L138.97,944.17L140.20,945.78L141.43,947.39L142.68,948.98L143.95,950.56L145.22,952.13L146.51,953.69L147.81,955.23L149.13,956.76L150.46,958.27L151.82,959.76L153.18,961.23L154.57,962.68L155.98,964.11L157.40,965.52L158.85,966.91L160.32,968.27L161.81,969.61L163.33,970.92L164.87,972.21L166.43,973.46L168.02,974.69L169.64,975.89L171.28,977.05L172.95,978.19L174.65,979.29L176.38,980.36L178.14,981.40L179.92,982.41L181.74,983.37L183.59,984.31"/><polygon fill="#191970" points="196.10,988.90 181.98,988.69 185.20,979.92"/>
<path d="M207.10,300.40C182.48,267.64 260.52,269.89 266.78,288.25"/><polygon fill="#191970" points="261.30,300.40 262.52,286.33 271.04,290.17"/>
<path d="M272.40,303.30L366.11,278.51"/><polygon fill="#191970" points="379.00,275.10 367.31,283.02 364.92,273.99"/>
<path d="M272.40,313.40L341.07,313.40"/><polygon fill="#191970" points="354.40,313.40 341.07,318.07 341.07,308.73"/>
<path d="M272.40,323.00L367.10,347.73"/><polygon fill="#191970" points="380.00,351.10 365.92,352.25 368.28,343.21"/>
<path d="M284.10,376.50L367.31,398.41"/><polygon fill="#191970" points="380.20,401.80 366.12,402.92 368.50,393.89"/>
<path d="M302.90,414.50L356.17,414.50"/><polygon fill="#191970" points="369.50,414.50 356.17,419.17 356.17,409.83"/>
<path d="M500.60,262.50L589.77,262.50"/><polygon fill="#191970" points="603.10,262.50 589.77,267.17 589.77,257.83"/>
<path d="M280.00,605.60L366.12,582.55"/><polygon fill="#191970" points="379.00,579.10 367.33,587.06 364.92,578.04"/>
<path d="M280.00,617.20L282.01,617.21L284.01,617.21L286.02,617.22L288.03,617.22L290.03,617.23L292.04,617.23L294.04,617.24L296.05,617.24L298.06,617.25L300.06,617.25L302.07,617.26L304.07,617.26L306.08,617.27L308.09,617.27L310.09,617.27L312.10,617.28L314.11,617.28L316.11,617.28L318.12,617.29L320.12,617.29L322.13,617.29L324.14,617.30L326.14,617.30L328.15,617.30L330.15,617.30L332.16,617.31L334.17,617.31L336.17,617.31L338.18,617.31L340.19,617.32L342.19,617.32L344.20,617.32L346.20,617.32L348.21,617.32L350.22,617.32L352.22,617.32L354.23,617.32L356.23,617.33L358.24,617.33L360.25,617.33L362.25,617.33L364.26,617.33L366.26,617.33L368.27,617.33L370.28,617.33L372.28,617.33L374.29,617.33L376.29,617.33L378.30,617.33L380.31,617.33L382.31,617.33L384.32,617.33L386.32,617.33L388.33,617.33L390.33,617.32L392.34,617.32L394.35,617.32L396.35,617.32L398.36,617.32L400.36,617.32L402.37,617.32L404.38,617.32L406.38,617.31L408.39,617.31L410.39,617.31L412.40,617.31L414.41,617.31L416.41,617.31L418.42,617.30L420.42,617.30L422.43,617.30L424.44,617.30L426.44,617.30L428.45,617.29L430.45,617.29L432.46,617.29L434.46,617.29L436.47,617.28L438.48,617.28L440.48,617.28L442.49,617.28L444.49,617.27L446.50,617.27L448.51,617.27L450.51,617.27L452.52,617.26L454.52,617.26L456.53,617.26L458.53,617.26L460.54,617.25L462.55,617.25L464.55,617.25L466.56,617.24L468.56,617.24L470.57,617.24L472.58,617.23L474.58,617.23L476.59,617.23L478.59,617.22L480.60,617.22L482.60,617.22L484.61,617.22L486.62,617.21L488.62,617.21L490.63,617.21L492.63,617.20L494.64,617.20L496.65,617.20L498.65,617.19L500.66,617.19L502.66,617.19L504.67,617.18L506.67,617.18L508.68,617.18L510.69,617.17L512.69,617.17L514.70,617.17L516.70,617.16L518.71,617.16L520.71,617.16L522.72,617.15L524.73,617.15L526.73,617.15L528.74,617.14L530.74,617.14L532.75,617.14L534.76,617.13L536.76,617.13L538.77,617.13L540.77,617.13L542.78,617.12L544.78,617.12L546.79,617.12L548.80,617.11L550.80,617.11L552.81,617.11L554.81,617.11L556.82,617.10L558.83,617.10L560.83,617.10L562.84,617.09L564.84,617.09L566.85,617.09L568.85,617.09L570.86,617.08L572.87,617.08L574.87,617.08L576.88,617.08L578.88,617.08L580.89,617.07L582.90,617.07L584.90,617.07L586.91,617.07L588.91,617.07L590.92,617.06L592.92,617.06L594.93,617.06L596.94,617.06L598.94,617.06L600.95,617.06L602.95,617.05L604.96,617.05L606.97,617.05L608.97,617.05L610.98,617.05L612.98,617.05L614.99,617.05L617.00,617.05L619.00,617.05L621.01,617.04L623.01,617.04L625.02,617.04L627.03,617.04L629.03,617.04L631.04,617.04L633.04,617.04L635.05,617.04L637.06,617.04L639.06,617.04L641.07,617.04L643.07,617.04L645.08,617.04L647.09,617.04L649.09,617.05L651.10,617.05L653.10,617.05L655.11,617.05L657.12,617.05L659.12,617.05L661.13,617.05L663.13,617.05L665.14,617.06L667.15,617.06L669.15,617.06L671.16,617.06L673.16,617.06L675.17,617.07L677.18,617.07L679.18,617.07L681.19,617.07L683.19,617.08L685.20,617.08L687.21,617.08L689.21,617.09L691.22,617.09L693.22,617.09L695.23,617.10L697.24,617.10L699.24,617.10L701.25,617.11L703.26,617.11L705.26,617.12L707.27,617.12L709.27,617.13L711.28,617.13L713.29,617.14L715.29,617.14L717.30,617.15L719.30,617.15L721.31,617.16L723.32,617.16L725.32,617.17L727.33,617.18L729.34,617.18L731.34,617.19L733.35,617.20L735.35,617.20L737.36,617.21L739.37,617.22L741.37,617.22L743.38,617.23L745.39,617.24L747.39,617.25L749.40,617.26L751.41,617.26L753.41,617.27L755.42,617.28L757.42,617.29L759.43,617.30L761.44,617.31L763.44,617.32L765.45,617.33L767.46,617.34L769.46,617.35L771.47,617.36L773.48,617.37L775.48,617.38L777.49,617.39L779.50,617.40L781.50,617.41L783.51,617.42L785.51,617.43L787.52,617.43L789.53,617.44L791.53,617.45L793.54,617.46L795.55,617.47L797.55,617.48L799.56,617.49L801.57,617.49L803.57,617.50L805.58,617.51L807.58,617.51L809.59,617.52L811.60,617.53L813.60,617.53L815.61,617.54L817.62,617.54L819.62,617.54L821.63,617.55L823.63,617.55L825.64,617.55L827.65,617.55L829.65,617.55L831.66,617.55L833.67,617.55L835.67,617.54L837.68,617.54L839.68,617.54L841.69,617.53L843.70,617.53L845.70,617.52L847.71,617.51L849.71,617.50L851.72,617.49L853.72,617.48L855.73,617.47L857.74,617.45L859.74,617.44L861.75,617.42L863.75,617.41L865.76,617.39L867.76,617.37L869.77,617.35L871.77,617.33L873.78,617.31L875.78,617.28L877.79,617.25L879.80,617.23L881.80,617.20L883.81,617.17L885.81,617.14L887.82,617.10L889.82,617.07L891.82,617.03L893.83,616.99L895.83,616.95L897.84,616.91L899.84,616.87L901.85,616.82L903.85,616.78L905.86,616.73L907.86,616.68L909.87,616.63L911.87,616.57L913.87,616.52L915.88,616.46L917.88,616.40L919.89,616.33L921.89,616.27L923.89,616.19L925.90,616.12L927.90,616.03L929.90,615.95L931.90,615.85L933.90,615.75L935.91,615.65L937.91,615.53L939.91,615.41L941.91,615.28L943.90,615.14L945.90,614.99L947.90,614.84L949.90,614.67L951.90,614.49L953.89,614.31L955.89,614.11L957.88,613.90L959.87,613.68L961.87,613.45L963.86,613.21L965.85,612.96L967.84,612.70L969.83,612.42L971.82,612.14L973.80,611.85L975.79,611.55L977.77,611.24L979.75,610.91L981.74,610.58L983.72,610.24L985.69,609.89L987.67,609.53L989.65,609.16L991.62,608.78L993.59,608.40L995.56,608.00L997.53,607.60L999.50,607.18L1001.46,606.76L1003.43,606.33L1005.39,605.89L1007.35,605.44L1009.31,604.99L1011.26,604.52L1013.22,604.05L1015.17,603.57L1017.12,603.08L1019.07,602.59L1021.01,602.09L1022.95,601.58L1024.89,601.06L1026.83,600.53L1028.77,600.00L1030.70,599.46L1032.63,598.92L1034.56,598.36L1036.49,597.80L1038.41,597.24L1040.33,596.66L1042.25,596.08L1044.17,595.50L1046.08,594.90L1048.00,594.30L1049.91,593.70L1051.82,593.09L1053.72,592.47L1055.63,591.84L1057.53,591.21L1059.43,590.58L1061.33,589.93L1063.23,589.29L1065.12,588.63L1067.01,587.98L1068.91,587.31L1070.79,586.64L1072.68,585.97L1074.57,585.29L1076.45,584.60L1078.33,583.91L1080.21,583.22L1082.09,582.52L1083.97,581.81L1085.84,581.10L1087.72,580.39L1089.59,579.67L1091.46,578.95L1093.33,578.22L1095.19,577.49L1097.06,576.75L1098.92,576.01L1100.79,575.27L1102.65,574.52L1104.51,573.77L1106.36,573.01L1108.22,572.25L1110.07,571.49L1111.93,570.72L1113.78,569.95L1115.63,569.18L1117.48,568.40L1119.33,567.62L1121.18,566.84L1123.02,566.05L1124.87,565.26L1126.71,564.47L1128.55,563.68L1130.39,562.88L1132.23,562.08L1134.07,561.27L1135.91,560.46L1137.74,559.65L1139.57,558.83L1141.41,558.01L1143.24,557.19L1145.07,556.37L1146.89,555.54L1148.72,554.70L1150.54,553.87L1152.36,553.03L1154.18,552.18L1156.00,551.34L1157.82,550.49L1159.63,549.63L1161.45,548.77L1163.26,547.91L1165.07,547.04L1166.88,546.17L1168.68,545.30L1170.49,544.42L1172.29,543.54L1174.09,542.65L1175.88,541.76L1177.68,540.87L1179.47,539.97L1181.26,539.07L1183.05,538.16L1184.84,537.25L1186.63,536.34L1188.41,535.42L1190.19,534.50L1191.97,533.57L1193.74,532.64L1195.52,531.70L1197.29,530.76L1199.06,529.82L1200.82,528.87L1202.59,527.91L1204.35,526.95L1206.11,525.99L1207.86,525.02L1209.62,524.05L1211.37,523.08L1213.12,522.09L1214.87,521.11L1216.61,520.12L1218.35,519.12L1220.09,518.12L1221.82,517.12L1223.56,516.11L1225.29,515.09L1227.01,514.07L1228.74,513.05L1230.46,512.02L1232.18,510.98L1233.89,509.94L1235.61,508.90L1237.32,507.85L1239.02,506.79L1240.73,505.74L1242.44,504.68L1244.14,503.63L1245.85,502.58L1247.57,501.53L1249.28,500.50L1251.01,499.48L1252.74,498.46L1254.48,497.47L1256.22,496.49L1257.98,495.53L1259.75,494.59L1261.53,493.67L1263.32,492.78L1265.13,491.91L1266.96,491.08L1268.80,490.28L1270.66,489.51L1272.54,488.77L1274.45,488.08L1276.37,487.42L1278.32,486.80L1280.29,486.23L1282.28,485.71L1284.30,485.23"/><polygon fill="#191970" points="1295.50,478.00 1286.84,489.16 1281.77,481.31"/>
<path d="M450.80,553.50L619.51,447.68"/><polygon fill="#191970" points="630.80,440.60 621.99,451.64 617.03,443.73"/>
<path d="M482.70,566.80L484.70,566.75L486.71,566.70L488.71,566.66L490.71,566.61L492.72,566.57L494.72,566.52L496.73,566.47L498.73,566.43L500.73,566.38L502.74,566.34L504.74,566.29L506.75,566.25L508.75,566.21L510.76,566.16L512.76,566.12L514.76,566.08L516.77,566.03L518.77,565.99L520.78,565.95L522.78,565.90L524.79,565.86L526.79,565.82L528.80,565.78L530.81,565.74L532.81,565.69L534.82,565.65L536.82,565.61L538.83,565.57L540.83,565.53L542.84,565.48L544.84,565.44L546.85,565.40L548.86,565.36L550.86,565.32L552.87,565.28L554.87,565.23L556.88,565.19L558.89,565.15L560.89,565.11L562.90,565.07L564.90,565.02L566.91,564.98L568.92,564.94L570.92,564.89L572.93,564.85L574.94,564.81L576.94,564.77L578.95,564.72L580.96,564.68L582.96,564.63L584.97,564.59L586.97,564.54L588.98,564.50L590.99,564.45L592.99,564.41L595.00,564.36L597.01,564.32L599.01,564.27L601.02,564.22L603.03,564.18L605.03,564.13L607.04,564.08L609.05,564.03L611.05,563.98L613.06,563.93L615.07,563.88L617.07,563.83L619.08,563.78L621.09,563.73L623.09,563.68L625.10,563.63L627.11,563.57L629.11,563.52L631.12,563.47L633.13,563.41L635.13,563.36L637.14,563.30L639.15,563.24L641.15,563.19L643.16,563.13L645.17,563.07L647.17,563.01L649.18,562.95L651.19,562.89L653.19,562.83L655.20,562.77L657.21,562.71L659.21,562.64L661.22,562.58L663.22,562.51L665.23,562.45L667.24,562.38L669.24,562.32L671.25,562.25L673.25,562.18L675.26,562.11L677.27,562.04L679.27,561.97L681.28,561.89L683.28,561.82L685.29,561.75L687.29,561.67L689.30,561.60L691.30,561.52L693.31,561.44L695.32,561.36L697.32,561.28L699.33,561.20L701.33,561.12L703.34,561.03L705.34,560.95L707.35,560.86L709.35,560.78L711.35,560.69L713.36,560.60L715.36,560.51L717.37,560.42L719.37,560.33L721.38,560.24L723.38,560.14L725.39,560.05L727.39,559.95L729.39,559.85L731.40,559.75L733.40,559.65L735.40,559.55L737.41,559.45L739.41,559.34L741.41,559.24L743.42,559.13L745.42,559.02L747.42,558.91L749.43,558.80L751.43,558.69L753.43,558.58L755.43,558.46L757.44,558.35L759.44,558.23L761.44,558.11L763.44,557.99L765.44,557.87L767.45,557.74L769.45,557.62L771.45,557.49L773.45,557.36L775.45,557.23L777.45,557.10L779.45,556.97L781.45,556.84L783.45,556.70L785.45,556.57L787.46,556.43L789.46,556.29L791.46,556.15L793.46,556.01L795.46,555.86L797.46,555.72L799.46,555.57L801.46,555.43L803.46,555.28L805.45,555.13L807.45,554.98L809.45,554.82L811.45,554.67L813.45,554.52L815.45,554.36L817.45,554.20L819.45,554.05L821.45,553.89L823.45,553.73L825.44,553.56L827.44,553.40L829.44,553.24L831.44,553.07L833.44,552.91L835.43,552.74L837.43,552.57L839.43,552.40L841.43,552.23L843.43,552.06L845.42,551.89L847.42,551.71L849.42,551.54L851.42,551.36L853.41,551.18L855.41,551.01L857.41,550.83L859.40,550.65L861.40,550.47L863.40,550.29L865.40,550.10L867.39,549.92L869.39,549.74L871.39,549.55L873.38,549.37L875.38,549.18L877.38,548.99L879.37,548.80L881.37,548.61L883.36,548.42L885.36,548.23L887.36,548.04L889.35,547.85L891.35,547.65L893.35,547.46L895.34,547.26L897.34,547.07L899.33,546.87L901.33,546.67L903.33,546.48L905.32,546.28L907.32,546.08L909.31,545.88L911.31,545.68L913.30,545.47L915.30,545.27L917.30,545.07L919.29,544.87L921.29,544.66L923.28,544.46L925.28,544.25L927.27,544.05L929.27,543.84L931.26,543.63L933.26,543.43L935.26,543.22L937.25,543.01L939.25,542.80L941.24,542.59L943.24,542.38L945.23,542.17L947.23,541.96L949.22,541.75L951.22,541.54L953.21,541.33L955.21,541.11L957.20,540.90L959.20,540.69L961.19,540.47L963.19,540.26L965.18,540.04L967.18,539.83L969.17,539.61L971.17,539.40L973.16,539.18L975.16,538.96L977.15,538.74L979.15,538.52L981.14,538.30L983.14,538.08L985.13,537.86L987.13,537.64L989.12,537.42L991.12,537.20L993.11,536.98L995.11,536.75L997.10,536.53L999.09,536.30L1001.09,536.08L1003.08,535.85L1005.08,535.62L1007.07,535.39L1009.07,535.16L1011.06,534.93L1013.05,534.70L1015.05,534.47L1017.04,534.24L1019.03,534.01L1021.03,533.77L1023.02,533.54L1025.01,533.30L1027.01,533.06L1029.00,532.83L1030.99,532.59L1032.98,532.35L1034.98,532.11L1036.97,531.87L1038.96,531.62L1040.95,531.38L1042.94,531.13L1044.94,530.89L1046.93,530.64L1048.92,530.39L1050.91,530.14L1052.90,529.89L1054.89,529.64L1056.88,529.39L1058.87,529.14L1060.86,528.88L1062.85,528.63L1064.84,528.37L1066.83,528.11L1068.82,527.85L1070.81,527.59L1072.80,527.33L1074.79,527.06L1076.78,526.80L1078.77,526.53L1080.76,526.26L1082.74,525.99L1084.73,525.71L1086.72,525.44L1088.71,525.16L1090.69,524.88L1092.68,524.59L1094.66,524.31L1096.65,524.02L1098.63,523.73L1100.61,523.43L1102.60,523.14L1104.58,522.84L1106.56,522.53L1108.55,522.23L1110.53,521.92L1112.51,521.61L1114.49,521.29L1116.47,520.97L1118.44,520.65L1120.42,520.32L1122.40,519.99L1124.38,519.66L1126.35,519.32L1128.33,518.98L1130.30,518.63L1132.28,518.28L1134.25,517.93L1136.22,517.58L1138.19,517.22L1140.17,516.85L1142.14,516.49L1144.11,516.11L1146.07,515.74L1148.04,515.36L1150.01,514.98L1151.98,514.59L1153.94,514.20L1155.91,513.81L1157.87,513.41L1159.84,513.01L1161.80,512.60L1163.76,512.19L1165.72,511.78L1167.68,511.36L1169.64,510.94L1171.60,510.51L1173.56,510.09L1175.51,509.65L1177.47,509.22L1179.43,508.77L1181.38,508.33L1183.33,507.88L1185.29,507.43L1187.24,506.97L1189.19,506.51L1191.14,506.04L1193.09,505.57L1195.04,505.10L1196.98,504.62L1198.93,504.14L1200.87,503.66L1202.82,503.17L1204.76,502.67L1206.70,502.18L1208.65,501.67L1210.59,501.17L1212.53,500.66L1214.46,500.14L1216.40,499.63L1218.34,499.10L1220.27,498.58L1222.21,498.04L1224.14,497.51L1226.08,496.97L1228.01,496.43L1229.94,495.88L1231.87,495.33L1233.80,494.77L1235.72,494.21L1237.65,493.64L1239.57,493.07L1241.50,492.50L1243.42,491.92L1245.34,491.34L1247.27,490.75L1249.18,490.16L1251.10,489.57L1253.02,488.97L1254.94,488.36L1256.85,487.75L1258.77,487.14L1260.68,486.52L1262.59,485.90L1264.50,485.27L1266.41,484.64L1268.32,484.01L1270.23,483.37L1272.14,482.72"/><polygon fill="#191970" points="1284.60,478.00 1273.79,487.09 1270.48,478.36"/>
<path d="M681.40,419.00L683.18,418.21L684.97,417.42L686.78,416.64L688.60,415.85L690.43,415.07L692.28,414.28L694.13,413.49L695.99,412.70L697.86,411.91L699.74,411.11L701.62,410.31L703.51,409.50L705.40,408.68L707.29,407.85L709.17,407.02L711.06,406.18L712.94,405.32L714.82,404.46L716.70,403.58L718.57,402.69L720.43,401.78L722.28,400.87L724.12,399.93L725.95,398.98L727.76,398.01L729.56,397.02L731.35,396.01L733.12,394.98L734.87,393.94L736.60,392.86L738.31,391.77L740.00,390.65L741.66,389.51L743.30,388.35L744.92,387.15L746.50,385.93L748.06,384.68L749.59,383.41L751.09,382.10L752.56,380.76L753.99,379.39L755.39,377.99L756.76,376.57L758.10,375.11L759.42,373.63L760.70,372.12L761.97,370.59L763.20,369.04L764.42,367.46L765.61,365.87L766.78,364.25L767.93,362.61L769.06,360.96L770.18,359.29L771.28,357.61L772.37,355.92L773.44,354.21L774.50,352.49L775.55,350.75L776.59,349.01L777.63,347.27L778.65,345.51L779.67,343.75L780.69,341.99L781.70,340.22L782.71,338.45L783.72,336.68L784.73,334.91L785.74,333.14L786.75,331.37L787.77,329.61L788.79,327.85L789.82,326.10L790.85,324.35L791.89,322.60L792.94,320.86L793.99,319.13L795.05,317.40L796.11,315.68L797.18,313.96L798.26,312.25L799.35,310.54L800.45,308.85L801.55,307.16L802.66,305.47L803.78,303.80L804.92,302.13L806.06,300.47L807.21,298.81L808.37,297.17L809.54,295.53L810.72,293.90L811.92,292.28L813.12,290.67L814.34,289.07L815.57,287.48L816.81,285.90L818.07,284.33L819.34,282.77L820.62,281.22L821.91,279.67L823.22,278.14L824.54,276.63L825.88,275.12L827.23,273.62L828.60,272.14L829.99,270.66L831.38,269.20L832.79,267.75L834.22,266.31L835.65,264.87L837.09,263.44L838.55,262.02L840.00,260.61L841.47,259.20L842.94,257.80L844.41,256.39L845.89,255.00L847.37,253.60L848.85,252.20L850.32,250.80L851.80,249.40L853.27,248.00L854.74,246.60L856.20,245.20L857.66,243.78L859.10,242.37L860.54,240.95L861.97,239.52L863.38,238.08L864.78,236.63"/><polygon fill="#191970" points="874.40,227.40 868.02,240.00 861.55,233.26"/>
<path d="M681.40,415.50L683.29,414.75L685.17,414.01L687.06,413.26L688.94,412.52L690.83,411.77L692.72,411.03L694.60,410.28L696.49,409.54L698.38,408.80L700.27,408.06L702.15,407.31L704.04,406.57L705.93,405.83L707.82,405.09L709.71,404.35L711.60,403.62L713.49,402.88L715.38,402.14L717.27,401.40L719.15,400.67L721.04,399.93L722.94,399.20L724.83,398.46L726.72,397.73L728.61,396.99L730.50,396.26L732.39,395.53L734.28,394.80L736.17,394.06L738.06,393.33L739.96,392.60L741.85,391.87L743.74,391.15L745.63,390.42L747.53,389.69L749.42,388.96L751.31,388.23L753.21,387.51L755.10,386.78L756.99,386.06L758.89,385.33L760.78,384.61L762.68,383.89L764.57,383.16L766.47,382.44L768.36,381.72L770.26,381.00L772.15,380.28L774.05,379.56L775.95,378.84L777.84,378.12L779.74,377.40L781.64,376.68L783.53,375.96L785.43,375.25L787.33,374.53L789.23,373.81L791.12,373.10L793.02,372.39L794.92,371.67L796.82,370.96L798.72,370.24L800.62,369.53L802.51,368.82L804.41,368.11L806.31,367.40L808.21,366.69L810.11,365.98L812.01,365.27L813.91,364.56L815.81,363.85L817.71,363.15L819.62,362.44L821.52,361.73L823.42,361.03L825.32,360.32L827.22,359.62L829.12,358.91L831.03,358.21L832.93,357.51L834.83,356.81L836.73,356.10L838.64,355.40L840.54,354.70L842.44,354.00L844.35,353.30"/><polygon fill="#191970" points="855.50,346.00 846.91,357.21 841.79,349.40"/>
<path d="M681.40,424.90L683.44,424.72L685.49,424.54L687.53,424.36L689.57,424.18L691.61,423.99L693.66,423.81L695.70,423.62L697.74,423.44L699.78,423.25L701.82,423.06L703.87,422.87L705.91,422.68L707.95,422.49L709.99,422.30L712.03,422.10L714.07,421.91L716.12,421.71L718.16,421.51L720.20,421.31L722.24,421.11L724.28,420.91L726.32,420.71L728.36,420.51L730.40,420.30L732.44,420.10L734.48,419.89L736.52,419.69L738.56,419.48L740.60,419.27L742.64,419.06L744.68,418.84L746.72,418.63L748.76,418.42L750.80,418.20L752.83,417.99L754.87,417.77L756.91,417.55L758.95,417.33L760.99,417.11L763.03,416.89L765.07,416.67L767.10,416.44L769.14,416.22L771.18,415.99L773.22,415.76L775.25,415.54L777.29,415.31L779.33,415.08L781.37,414.84L783.40,414.61L785.44,414.38L787.48,414.14L789.52,413.91L791.55,413.67L793.59,413.43L795.62,413.19L797.66,412.95L799.70,412.71L801.73,412.47L803.77,412.22L805.81,411.98L807.84,411.73L809.88,411.49L811.91,411.24"/><polygon fill="#191970" points="825.10,409.30 812.59,415.86 811.23,406.62"/>
<path d="M681.40,431.60L683.44,431.78L685.47,431.97L687.51,432.15L689.55,432.34L691.58,432.52L693.62,432.71L695.66,432.90L697.69,433.09L699.73,433.28L701.76,433.47L703.80,433.66L705.84,433.85L707.87,434.05L709.91,434.24L711.94,434.44L713.98,434.63L716.01,434.83L718.05,435.03L720.08,435.23L722.12,435.43L724.15,435.63L726.19,435.83L728.22,436.03L730.26,436.24L732.29,436.44L734.32,436.65L736.36,436.85L738.39,437.06L740.43,437.27L742.46,437.48L744.50,437.69L746.53,437.90L748.56,438.11L750.60,438.32L752.63,438.54L754.66,438.75L756.70,438.97L758.73,439.18L760.76,439.40L762.80,439.62L764.83,439.84L766.86,440.06L768.89,440.28L770.93,440.50L772.96,440.72L774.99,440.95L777.02,441.17L779.06,441.40L781.09,441.62L783.12,441.85L785.15,442.08L787.18,442.30L789.22,442.53L791.25,442.77L793.28,443.00L795.31,443.23L797.34,443.46L799.37,443.70L801.40,443.93L803.44,444.17L805.47,444.40L807.50,444.64L809.53,444.88L811.56,445.12L813.59,445.36L815.62,445.60L817.65,445.84L819.68,446.09"/><polygon fill="#191970" points="832.90,447.80 819.08,450.72 820.28,441.46"/>
<path d="M681.40,440.60L683.28,441.39L685.16,442.17L687.05,442.94L688.93,443.71L690.82,444.47L692.71,445.23L694.60,445.98L696.49,446.73L698.38,447.47L700.28,448.21L702.17,448.94L704.07,449.66L705.97,450.38L707.86,451.09L709.76,451.80L711.67,452.50L713.57,453.20L715.47,453.89L717.38,454.58L719.29,455.26L721.19,455.93L723.10,456.60L725.01,457.27L726.92,457.92L728.84,458.58L730.75,459.22L732.67,459.87L734.58,460.50L736.50,461.14L738.42,461.76L740.34,462.38L742.26,463.00L744.18,463.61L746.11,464.21L748.03,464.81L749.96,465.41L751.88,466.00L753.81,466.58L755.74,467.16L757.67,467.73L759.60,468.30L761.54,468.87L763.47,469.42L765.40,469.98L767.34,470.52L769.28,471.07L771.21,471.60L773.15,472.14L775.09,472.66L777.03,473.18L778.98,473.70L780.92,474.21L782.86,474.72L784.81,475.22L786.75,475.72L788.70,476.21L790.65,476.70L792.60,477.18L794.55,477.66L796.50,478.13L798.45,478.59L800.40,479.06L802.36,479.51L804.31,479.96L806.27,480.41L808.23,480.85L810.18,481.29L812.14,481.72L814.10,482.15L816.06,482.57L818.02,482.99L819.98,483.40L821.95,483.81L823.91,484.22L825.87,484.62L827.84,485.01L829.81,485.40L831.77,485.78L833.74,486.16L835.71,486.54L837.68,486.91L839.65,487.27L841.62,487.63L843.59,487.99L845.57,488.34L847.54,488.69L849.51,489.03L851.49,489.37L853.46,489.70L855.44,490.03L857.42,490.35L859.40,490.67L861.37,490.99L863.35,491.30L865.33,491.60L867.31,491.90L869.30,492.20L871.28,492.49L873.26,492.78L875.24,493.06L877.23,493.34L879.21,493.61L881.20,493.88L883.18,494.15L885.17,494.41L887.16,494.67L889.15,494.92L891.13,495.16L893.12,495.41L895.11,495.65L897.10,495.88L899.09,496.11L901.09,496.34L903.08,496.56L905.07,496.78L907.06,496.99L909.06,497.20L911.05,497.40L913.05,497.60L915.04,497.80L917.04,497.99L919.03,498.18L921.03,498.36L923.03,498.54L925.02,498.71L927.02,498.88L929.02,499.05L931.02,499.21L933.02,499.37L935.02,499.53L937.02,499.68L939.02,499.82L941.02,499.96L943.02,500.10L945.03,500.24L947.03,500.37L949.03,500.49L951.03,500.61L953.04,500.73L955.04,500.85L957.05,500.96L959.05,501.06L961.06,501.16L963.06,501.26L965.07,501.36L967.07,501.45L969.08,501.53L971.09,501.61L973.09,501.69L975.10,501.77L977.11,501.84L979.12,501.90L981.12,501.97L983.13,502.03L985.14,502.08L987.15,502.13L989.16,502.18L991.17,502.23L993.18,502.27L995.19,502.30L997.20,502.34L999.21,502.37L1001.22,502.39L1003.23,502.41L1005.24,502.43L1007.25,502.45L1009.26,502.46L1011.27,502.46L1013.29,502.47L1015.30,502.47L1017.31,502.46L1019.32,502.46L1021.33,502.44L1023.35,502.43L1025.36,502.41L1027.37,502.39L1029.38,502.37L1031.40,502.34L1033.41,502.30L1035.42,502.27L1037.43,502.23L1039.45,502.19L1041.46,502.14L1043.47,502.09L1045.49,502.04L1047.50,501.98L1049.51,501.92L1051.52,501.86L1053.54,501.79L1055.55,501.72L1057.56,501.65L1059.58,501.57L1061.59,501.49L1063.60,501.41L1065.62,501.32L1067.63,501.23L1069.64,501.14L1071.65,501.04L1073.67,500.94L1075.68,500.84L1077.69,500.74L1079.71,500.63L1081.72,500.51L1083.73,500.40L1085.74,500.28L1087.75,500.16L1089.77,500.03L1091.78,499.90L1093.79,499.77L1095.80,499.64L1097.81,499.50L1099.82,499.36L1101.83,499.21L1103.85,499.07L1105.86,498.92L1107.87,498.76L1109.88,498.61L1111.89,498.45L1113.90,498.28L1115.91,498.12L1117.92,497.95L1119.92,497.78L1121.93,497.61L1123.94,497.43L1125.95,497.25L1127.96,497.06L1129.97,496.88L1131.97,496.69L1133.98,496.50L1135.99,496.30L1138.00,496.11L1140.00,495.91L1142.01,495.70L1144.01,495.50L1146.02,495.29L1148.02,495.07L1150.03,494.86L1152.03,494.64L1154.04,494.42L1156.04,494.20L1158.04,493.97L1160.05,493.75L1162.05,493.52L1164.05,493.28L1166.05,493.05L1168.05,492.81L1170.06,492.56L1172.06,492.32L1174.06,492.07L1176.05,491.82L1178.05,491.57L1180.05,491.32L1182.05,491.06L1184.05,490.80L1186.05,490.53L1188.04,490.27L1190.04,490.00L1192.03,489.73L1194.03,489.46L1196.02,489.18L1198.02,488.91L1200.01,488.62L1202.00,488.34L1204.00,488.06L1205.99,487.77L1207.98,487.48L1209.97,487.19L1211.96,486.89L1213.95,486.59L1215.94,486.29L1217.93,485.99L1219.92,485.69L1221.90,485.38L1223.89,485.07L1225.88,484.76L1227.86,484.45L1229.85,484.13L1231.83,483.81L1233.81,483.49L1235.80,483.17L1237.78,482.84L1239.76,482.51L1241.74,482.18L1243.72,481.85L1245.70,481.52L1247.68,481.18L1249.66,480.84L1251.63,480.50L1253.61,480.16L1255.59,479.81L1257.56,479.47L1259.53,479.12L1261.51,478.77L1263.48,478.41L1265.45,478.06L1267.42,477.70L1269.39,477.34L1271.36,476.98"/><polygon fill="#191970" points="1284.40,474.20 1272.34,481.55 1270.39,472.41"/>
<path d="M907.70,202.00L1078.80,64.93"/><polygon fill="#191970" points="1089.20,56.60 1081.72,68.58 1075.88,61.29"/>
<path d="M1168.70,36.50L1253.67,26.03"/><polygon fill="#191970" points="1266.90,24.40 1254.24,30.67 1253.10,21.40"/>
<path d="M1168.70,51.60L1221.19,58.63"/><polygon fill="#191970" points="1234.40,60.40 1220.57,63.26 1221.81,54.00"/>
<path d="M901.50,320.60L902.80,319.03L904.11,317.47L905.45,315.93L906.80,314.40L908.16,312.89L909.54,311.39L910.93,309.91L912.34,308.43L913.75,306.97L915.18,305.52L916.62,304.08L918.07,302.65L919.53,301.23L920.99,299.82L922.47,298.41L923.94,297.02L925.43,295.62L926.92,294.24L928.42,292.85L929.91,291.47L931.41,290.10L932.92,288.72L934.42,287.35L935.92,285.98L937.43,284.61L938.93,283.24L940.43,281.87L941.93,280.49L943.42,279.11L944.91,277.73L946.40,276.35L947.87,274.96L949.35,273.57L950.81,272.16L952.27,270.76L953.71,269.34L955.15,267.92L956.58,266.48L957.99,265.04L959.39,263.59L960.78,262.12L962.16,260.65L963.52,259.16L964.87,257.66L966.21,256.15L967.53,254.62L968.83,253.08L970.13,251.54L971.41,249.97L972.67,248.40L973.92,246.81L975.16,245.22L976.39,243.60L977.60,241.98L978.80,240.35L979.98,238.70L981.15,237.04L982.31,235.37L983.46,233.68L984.59,231.98L985.71,230.27L986.81,228.55L987.91,226.82L989.00,225.08L990.07,223.34L991.14,221.58L992.21,219.82L993.27,218.06L994.33,216.30L995.38,214.53L996.43,212.76L997.49,210.99L998.54,209.23L999.60,207.47L1000.66,205.71L1001.73,203.96L1002.81,202.22L1003.89,200.49L1004.99,198.77L1006.10,197.06L1007.22,195.38L1008.36,193.71L1009.52,192.07L1010.70,190.45L1011.90,188.85L1013.12,187.28L1014.37,185.74L1015.65,184.24L1016.96,182.77L1018.30,181.33L1019.67,179.93L1021.07,178.58L1022.51,177.26L1024.00,176.00L1025.52,174.77L1027.08,173.60L1028.69,172.48L1030.34,171.41L1032.04,170.40L1033.78,169.44L1035.58,168.55L1037.44,167.71L1039.34,166.94L1041.31,166.24L1043.33,165.60L1045.41,165.04L1047.55,164.54L1049.76,164.12"/><polygon fill="#191970" points="1061.60,158.00 1051.91,168.27 1047.61,159.98"/>
<path d="M903.00,320.60L904.22,319.06L905.44,317.52L906.68,315.99L907.93,314.45L909.18,312.92L910.45,311.40L911.72,309.87L913.01,308.35L914.31,306.83L915.61,305.32L916.93,303.81L918.25,302.31L919.59,300.81L920.93,299.31L922.28,297.82L923.64,296.33L925.02,294.85L926.40,293.38L927.79,291.91L929.19,290.44L930.59,288.99L932.01,287.53L933.44,286.09L934.87,284.65L936.32,283.22L937.77,281.79L939.23,280.37L940.70,278.96L942.18,277.56L943.67,276.17L945.16,274.78L946.67,273.40L948.18,272.03L949.70,270.67L951.23,269.32L952.77,267.97L954.31,266.64L955.86,265.31L957.43,264.00L958.99,262.69L960.57,261.40L962.16,260.11L963.75,258.84L965.35,257.57L966.96,256.32L968.57,255.08L970.20,253.85L971.83,252.63L973.47,251.42L975.11,250.22L976.77,249.04L978.43,247.87L980.09,246.71L981.77,245.56L983.45,244.42L985.14,243.30L986.83,242.20L988.54,241.10L990.25,240.02L991.96,238.95L993.69,237.90L995.41,236.86L997.15,235.84L998.89,234.83L1000.64,233.83L1002.40,232.85L1004.16,231.89L1005.93,230.94L1007.71,230.01L1009.49,229.09L1011.27,228.19L1013.07,227.30L1014.87,226.43L1016.67,225.58L1018.48,224.75L1020.30,223.93L1022.12,223.13L1023.95,222.34L1025.79,221.58L1027.63,220.83L1029.47,220.10L1031.32,219.39L1033.18,218.70L1035.04,218.02L1036.91,217.37L1038.78,216.73L1040.66,216.11L1042.54,215.51L1044.43,214.94L1046.32,214.38L1048.22,213.84L1050.13,213.32L1052.03,212.82L1053.95,212.35L1055.87,211.89L1057.79,211.45L1059.71,211.03L1061.64,210.64L1063.58,210.26L1065.52,209.90L1067.46,209.57L1069.41,209.25L1071.36,208.95L1073.31,208.67L1075.27,208.41L1077.22,208.17L1079.19,207.95L1081.15,207.75L1083.12,207.56L1085.09,207.40L1087.06,207.25L1089.04,207.13L1091.02,207.02L1093.00,206.93L1094.98,206.86L1096.96,206.80L1098.95,206.77L1100.94,206.75L1102.92,206.75L1104.91,206.77L1106.90,206.81L1108.90,206.87L1110.89,206.94L1112.88,207.03L1114.88,207.14L1116.87,207.26L1118.86,207.40L1120.86,207.56L1122.85,207.74L1124.85,207.93L1126.84,208.14L1128.84,208.37L1130.83,208.61L1132.83,208.87L1134.82,209.15L1136.81,209.44L1138.80,209.75L1140.79,210.08L1142.78,210.42L1144.77,210.78L1146.75,211.16L1148.73,211.55L1150.72,211.95L1152.70,212.37L1154.67,212.81L1156.65,213.26L1158.62,213.73L1160.59,214.22L1162.56,214.71L1164.53,215.23L1166.49,215.76L1168.45,216.30L1170.41,216.86L1172.36,217.43L1174.31,218.02L1176.26,218.62L1178.20,219.24L1180.14,219.87L1182.07,220.52L1184.00,221.18L1185.93,221.85L1187.85,222.54L1189.77,223.24L1191.68,223.96L1193.59,224.69L1195.49,225.43L1197.39,226.19L1199.29,226.96L1201.17,227.75L1203.06,228.54L1204.93,229.35L1206.81,230.18L1208.67,231.01L1210.53,231.86L1212.38,232.72L1214.23,233.60L1216.07,234.49L1217.91,235.39L1219.73,236.30L1221.56,237.22L1223.37,238.16L1225.18,239.11L1226.98,240.07L1228.77,241.04L1230.55,242.03L1232.33,243.03L1234.10,244.03L1235.86,245.05L1237.62,246.09L1239.37,247.13L1241.10,248.18L1242.83,249.25L1244.55,250.33L1246.27,251.41L1247.97,252.51L1249.66,253.62L1251.35,254.74L1253.03,255.87L1254.69,257.02L1256.35,258.17L1258.00,259.33L1259.64,260.50L1261.27,261.69L1262.89,262.88L1264.49,264.08L1266.09,265.30L1267.68,266.52L1269.26,267.75L1270.83,268.99L1272.38,270.24L1273.93,271.51L1275.46,272.78L1276.98,274.06L1278.50,275.35L1280.00,276.64L1281.49,277.95L1282.96,279.27L1284.43,280.59L1285.88,281.92L1287.32,283.27L1288.75,284.62"/><polygon fill="#191970" points="1299.50,292.50 1285.99,288.38 1291.51,280.85"/>
<path d="M926.10,320.60L1037.50,279.24"/><polygon fill="#191970" points="1050.00,274.60 1039.13,283.62 1035.88,274.86"/>
<path d="M927.30,329.60L1027.83,320.24"/><polygon fill="#191970" points="1041.10,319.00 1028.26,324.89 1027.39,315.59"/>
<path d="M927.30,338.80L1044.20,355.24"/><polygon fill="#191970" points="1057.40,357.10 1043.55,359.87 1044.85,350.62"/>
<path d="M919.70,346.00L921.58,346.78L923.47,347.57L925.35,348.35L927.24,349.13L929.12,349.91L931.01,350.69L932.89,351.46L934.78,352.24L936.66,353.01L938.55,353.79L940.44,354.56L942.33,355.33L944.22,356.10L946.10,356.87L947.99,357.64L949.88,358.40L951.77,359.17L953.66,359.93L955.56,360.70L957.45,361.46L959.34,362.22L961.23,362.98L963.12,363.74L965.02,364.50L966.91,365.25L968.81,366.01L970.70,366.76L972.60,367.52L974.49,368.27L976.39,369.02L978.28,369.77L980.18,370.52L982.08,371.27L983.98,372.01L985.87,372.76L987.77,373.50L989.67,374.25L991.57,374.99L993.47,375.73L995.37,376.47L997.27,377.21L999.17,377.94L1001.08,378.68L1002.98,379.42L1004.88,380.15L1006.78,380.88L1008.69,381.61L1010.59,382.35L1012.50,383.08L1014.40,383.80L1016.31,384.53L1018.21,385.26L1020.12,385.98L1022.02,386.71L1023.93,387.43L1025.84,388.15L1027.75,388.87L1029.66,389.59L1031.56,390.31L1033.47,391.03L1035.38,391.74L1037.29,392.46L1039.21,393.17L1041.12,393.88L1043.03,394.59L1044.94,395.30L1046.85,396.01L1048.77,396.72L1050.68,397.43"/><polygon fill="#191970" points="1063.20,402.00 1049.08,401.82 1052.28,393.04"/>
<path d="M922.20,346.00L924.13,346.74L926.05,347.49L927.98,348.26L929.89,349.04L931.81,349.84L933.72,350.64L935.62,351.47L937.52,352.31L939.41,353.17L941.29,354.04L943.16,354.94L945.02,355.85L946.86,356.77L948.70,357.72L950.52,358.69L952.33,359.68L954.13,360.69L955.91,361.72L957.67,362.77L959.41,363.84L961.14,364.94L962.85,366.06L964.54,367.21L966.21,368.38L967.85,369.57L969.48,370.79L971.08,372.04L972.65,373.31L974.20,374.61L975.73,375.94L977.23,377.30L978.70,378.68L980.14,380.10L981.56,381.54L982.94,383.02L984.29,384.53L985.62,386.06L986.90,387.63L988.16,389.24L989.39,390.87L990.59,392.52L991.76,394.20L992.92,395.90L994.05,397.62L995.17,399.35L996.28,401.09L997.38,402.85L998.47,404.60L999.55,406.37L1000.63,408.13L1001.72,409.89L1002.80,411.65L1003.89,413.40L1005.00,415.13L1006.11,416.86L1007.24,418.57L1008.38,420.26L1009.55,421.92L1010.74,423.57L1011.95,425.18L1013.19,426.77L1014.47,428.32L1015.77,429.84L1017.12,431.31L1018.50,432.75L1019.93,434.14L1021.40,435.49L1022.91,436.79L1024.48,438.03L1026.10,439.22L1027.78,440.35L1029.52,441.41L1031.31,442.42L1033.17,443.36L1035.10,444.22L1037.10,445.02L1039.17,445.74"/><polygon fill="#191970" points="1050.60,452.60 1036.77,449.75 1041.57,441.74"/>
<path d="M1170.20,145.50L1254.87,145.50"/><polygon fill="#191970" points="1268.20,145.50 1254.87,150.17 1254.87,140.83"/>
<path d="M1153.40,376.60L1155.34,377.27L1157.27,377.95L1159.19,378.65L1161.10,379.37L1163.00,380.10L1164.89,380.85L1166.78,381.62L1168.66,382.40L1170.53,383.20L1172.39,384.01L1174.24,384.83L1176.09,385.67L1177.93,386.52L1179.76,387.39L1181.59,388.27L1183.41,389.16L1185.23,390.06L1187.03,390.97L1188.84,391.90L1190.63,392.83L1192.43,393.78L1194.21,394.73L1196.00,395.70L1197.77,396.67L1199.55,397.65L1201.32,398.64L1203.08,399.63L1204.84,400.64L1206.60,401.65L1208.36,402.67L1210.11,403.69L1211.86,404.72L1213.60,405.75L1215.35,406.79L1217.09,407.83L1218.83,408.88L1220.56,409.93L1222.30,410.98L1224.03,412.03L1225.77,413.09L1227.50,414.15L1229.23,415.21L1230.96,416.27L1232.69,417.34L1234.42,418.40L1236.15,419.46L1237.89,420.52L1239.62,421.58L1241.35,422.64L1243.08,423.70L1244.82,424.76L1246.55,425.81L1248.29,426.86L1250.03,427.90L1251.77,428.94L1253.52,429.98L1255.26,431.01L1257.01,432.04L1258.76,433.06L1260.52,434.08L1262.28,435.09L1264.04,436.09L1265.81,437.09L1267.58,438.07L1269.35,439.05L1271.13,440.03L1272.91,440.99L1274.70,441.94L1276.49,442.88L1278.29,443.82L1280.10,444.74L1281.91,445.65L1283.72,446.55"/><polygon fill="#191970" points="1295.60,452.60 1281.60,450.71 1285.84,442.39"/>
<path d="M1154.10,426.40L1271.45,454.95"/><polygon fill="#191970" points="1284.40,458.10 1270.34,459.49 1272.55,450.41"/>
<path d="M1177.50,465.20L1271.07,465.20"/><polygon fill="#191970" points="1284.40,465.20 1271.07,469.87 1271.07,460.53"/>
<path d="M947.60,674.20L949.63,674.48L951.65,674.74L953.67,674.98L955.70,675.20L957.72,675.41L959.74,675.60L961.76,675.77L963.78,675.93L965.80,676.07L967.81,676.20L969.83,676.31L971.85,676.40L973.86,676.48L975.88,676.54L977.89,676.59L979.91,676.63L981.92,676.65L983.93,676.65L985.94,676.65L987.95,676.63L989.96,676.60L991.97,676.55L993.98,676.49L995.99,676.42L998.00,676.34L1000.01,676.25L1002.01,676.15L1004.02,676.03L1006.02,675.91L1008.03,675.77L1010.03,675.62L1012.04,675.47L1014.04,675.30L1016.04,675.13L1018.05,674.94L1020.05,674.75L1022.05,674.55L1024.05,674.34L1026.05,674.12L1028.05,673.89L1030.05,673.66L1032.05,673.42L1034.05,673.17L1036.04,672.92L1038.04,672.66L1040.04,672.39L1042.03,672.12L1044.03,671.85L1046.03,671.56L1048.02,671.28L1050.02,670.98L1052.01,670.69L1054.01,670.39L1056.00,670.08L1058.00,669.77L1059.99,669.46L1061.98,669.15L1063.98,668.83L1065.97,668.51L1067.96,668.19L1069.96,667.86L1071.95,667.54L1073.94,667.21L1075.93,666.88L1077.92,666.54L1079.91,666.21L1081.91,665.87L1083.90,665.53L1085.89,665.19L1087.88,664.85L1089.86,664.50L1091.85,664.15L1093.84,663.80L1095.83,663.45L1097.82,663.10L1099.81,662.74L1101.79,662.38L1103.78,662.02L1105.77,661.66L1107.75,661.30L1109.74,660.93L1111.72,660.56L1113.71,660.19L1115.69,659.82L1117.68,659.44L1119.66,659.06L1121.64,658.69L1123.62,658.30L1125.60,657.91L1127.58,657.52L1129.56,657.11L1131.53,656.70L1133.50,656.27L1135.46,655.83L1137.42,655.38L1139.37,654.91L1141.32,654.41L1143.26,653.90L1145.19,653.37L1147.12,652.81L1149.04,652.23L1150.94,651.62L1152.84,650.98L1154.73,650.31L1156.61,649.62L1158.48,648.90L1160.34,648.16L1162.19,647.39L1164.03,646.59L1165.87,645.77L1167.69,644.93L1169.50,644.06L1171.30,643.17L1173.09,642.26L1174.87,641.33L1176.64,640.37L1178.40,639.39L1180.15,638.39L1181.89,637.37L1183.62,636.33L1185.34,635.28L1187.05,634.20L1188.74,633.10L1190.43,631.99L1192.10,630.85L1193.76,629.70L1195.41,628.54L1197.05,627.36L1198.68,626.16L1200.30,624.94L1201.90,623.71L1203.50,622.47L1205.08,621.21L1206.65,619.94L1208.21,618.65L1209.76,617.35L1211.29,616.04L1212.82,614.72L1214.34,613.38L1215.84,612.03L1217.34,610.67L1218.83,609.30L1220.30,607.91L1221.77,606.52L1223.23,605.12L1224.68,603.70L1226.12,602.27L1227.55,600.84L1228.97,599.40L1230.38,597.94L1231.79,596.48L1233.19,595.01L1234.58,593.53L1235.96,592.05L1237.33,590.55L1238.70,589.05L1240.06,587.55L1241.41,586.03L1242.76,584.51L1244.10,582.99L1245.43,581.46L1246.76,579.92L1248.08,578.38L1249.39,576.83L1250.70,575.28L1252.01,573.73L1253.30,572.17L1254.60,570.61L1255.88,569.04L1257.17,567.47L1258.44,565.90L1259.71,564.32L1260.98,562.74L1262.23,561.16L1263.48,559.57L1264.72,557.97L1265.96,556.37L1267.18,554.77L1268.40,553.16L1269.61,551.55L1270.81,549.93L1272.00,548.30L1273.17,546.67L1274.34,545.03L1275.50,543.38L1276.65,541.73L1277.78,540.07L1278.91,538.41L1280.02,536.73L1281.12,535.05L1282.21,533.37L1283.28,531.67L1284.34,529.97L1285.39,528.26L1286.42,526.54L1287.44,524.81L1288.44,523.07L1289.43,521.33L1290.41,519.57L1291.36,517.81L1292.31,516.03L1293.23,514.25L1294.14,512.46L1295.03,510.65L1295.91,508.84L1296.76,507.02L1297.60,505.18L1298.42,503.34L1299.22,501.48L1300.01,499.62L1300.77,497.74L1301.51,495.85L1302.24,493.95L1302.94,492.03L1303.62,490.11"/><polygon fill="#191970" points="1309.20,478.00 1307.86,492.06 1299.38,488.15"/>
<path d="M1347.10,318.00L1452.99,366.82"/><polygon fill="#191970" points="1465.10,372.40 1451.04,371.06 1454.95,362.58"/>
<path d="M1347.10,452.60L1453.01,403.51"/><polygon fill="#191970" points="1465.10,397.90 1454.97,407.74 1451.04,399.27"/>
<path d="M266.10,779.60L385.62,827.35"/><polygon fill="#191970" points="398.00,832.30 383.89,831.69 387.35,823.02"/>
<path d="M207.50,831.40C180.77,797.64 268.61,802.38 266.58,819.16"/><polygon fill="#191970" points="261.30,831.40 262.30,817.31 270.87,821.01"/>
<path d="M442.30,832.30C477.01,794.27 521.90,753.62 571.40,736.43"/><polygon fill="#191970" points="583.70,731.30 573.20,740.74 569.60,732.12"/>
<path d="M458.30,832.30L460.12,831.35L461.94,830.40L463.77,829.46L465.60,828.53L467.43,827.61L469.27,826.70L471.11,825.79L472.96,824.90L474.80,824.01L476.66,823.12L478.51,822.25L480.37,821.38L482.24,820.53L484.10,819.68L485.97,818.83L487.85,818.00L489.72,817.17L491.60,816.35L493.48,815.54L495.37,814.73L497.26,813.93L499.15,813.14L501.05,812.36L502.95,811.58L504.85,810.81L506.75,810.05L508.66,809.30L510.57,808.55L512.48,807.81L514.40,807.08L516.31,806.35L518.23,805.63L520.16,804.92L522.08,804.21L524.01,803.51L525.94,802.82L527.88,802.13L529.81,801.45L531.75,800.78L533.69,800.11L535.63,799.45L537.58,798.80L539.53,798.15L541.48,797.51L543.43,796.88L545.38,796.25L547.34,795.63L549.29,795.02L551.25,794.41L553.21,793.80L555.18,793.21L557.14,792.62L559.11,792.03L561.08,791.45L563.05,790.88L565.02,790.31L566.99,789.75L568.97,789.20L570.94,788.65L572.92,788.10L574.90,787.56L576.88,787.03L578.86,786.50L580.84,785.98L582.83,785.47"/><polygon fill="#191970" points="595.70,782.00 584.04,789.97 581.61,780.96"/>
<path d="M462.30,841.30L464.35,840.99L466.40,840.69L468.45,840.38L470.51,840.08L472.56,839.79L474.61,839.49L476.66,839.20L478.72,838.91L480.77,838.62L482.82,838.34L484.88,838.06L486.93,837.78L488.99,837.50L491.04,837.23L493.10,836.96L495.15,836.69L497.21,836.43L499.27,836.16L501.32,835.90L503.38,835.65L505.44,835.39L507.50,835.14L509.55,834.89L511.61,834.65L513.67,834.40L515.73,834.16L517.79,833.92L519.85,833.69L521.91,833.46L523.97,833.23L526.03,833.00L528.09,832.77L530.15,832.55L532.21,832.33L534.28,832.12L536.34,831.90L538.40,831.69L540.46,831.48L542.53,831.28L544.59,831.08L546.66,830.88L548.72,830.68L550.78,830.48L552.85,830.29L554.91,830.10L556.98,829.92"/><polygon fill="#191970" points="570.30,829.40 557.16,834.58 556.80,825.25"/>
<path d="M462.30,848.30L579.77,862.59"/><polygon fill="#191970" points="593.00,864.20 579.20,867.23 580.33,857.95"/>
<path d="M458.30,857.60L460.10,858.56L461.90,859.52L463.70,860.47L465.51,861.42L467.32,862.36L469.13,863.29L470.94,864.22L472.76,865.14L474.59,866.06L476.41,866.96L478.24,867.87L480.08,868.76L481.91,869.66L483.75,870.54L485.59,871.42L487.44,872.29L489.29,873.15L491.14,874.01L492.99,874.86L494.85,875.71L496.71,876.55L498.57,877.38L500.44,878.20L502.31,879.02L504.18,879.83L506.06,880.64L507.94,881.43L509.82,882.22L511.70,883.01L513.59,883.78L515.48,884.55L517.37,885.31L519.27,886.07L521.17,886.82L523.07,887.56L524.97,888.29L526.88,889.01L528.79,889.73L530.70,890.44L532.62,891.14L534.53,891.84L536.45,892.52L538.38,893.20L540.30,893.88L542.23,894.54L544.16,895.20L546.10,895.84L548.04,896.48L549.97,897.12L551.92,897.74L553.86,898.36L555.81,898.96L557.76,899.56L559.71,900.15L561.66,900.74L563.62,901.31L565.58,901.88L567.54,902.44L569.50,902.98L571.47,903.53L573.44,904.06L575.41,904.58L577.38,905.10L579.36,905.60L581.34,906.10L583.32,906.59L585.30,907.07L587.29,907.54"/><polygon fill="#191970" points="600.50,909.30 586.67,912.17 587.90,902.91"/>
<path d="M442.80,857.60C476.36,895.33 524.58,935.27 571.86,954.15"/><polygon fill="#191970" points="584.20,959.20 570.09,958.47 573.63,949.83"/>
<path d="M437.30,857.60C467.32,907.38 519.66,997.95 580.45,1011.47"/><polygon fill="#191970" points="593.50,1014.20 579.50,1016.04 581.41,1006.90"/>
<path d="M732.70,718.80L789.07,718.80"/><polygon fill="#191970" points="802.40,718.80 789.07,723.47 789.07,714.13"/>
<path d="M713.50,769.10L787.07,769.10"/><polygon fill="#191970" points="800.40,769.10 787.07,773.77 787.07,764.43"/>
<path d="M273.40,995.80L386.87,995.80"/><polygon fill="#191970" points="400.20,995.80 386.87,1000.47 386.87,991.13"/>
</g>
<g style="will-change:transform" font-family="Liberation Sans, sans-serif" font-size="13.6" text-anchor="middle" fill="#000">
<rect x="5.3" y="680.7" width="109.4" height="25.2" fill="#bfbfbf" stroke="#000" stroke-width="1.33"/>
<text x="60.0" y="696.6" textLength="86.1" lengthAdjust="spacingAndGlyphs">lines_general</text>
<rect x="196.4" y="300.4" width="76.0" height="25.5" fill="#ffffff" stroke="#000" stroke-width="1.33"/>
<text x="234.4" y="316.4" textLength="54.5" lengthAdjust="spacingAndGlyphs">chIonLbl</text>
<rect x="166.9" y="351.1" width="135.2" height="25.4" fill="#ffffff" stroke="#000" stroke-width="1.33"/>
<text x="234.5" y="367.1" textLength="111.2" lengthAdjust="spacingAndGlyphs">t_dynamics::Cool</text>
<rect x="166.4" y="401.8" width="136.5" height="25.4" fill="#ffffff" stroke="#000" stroke-width="1.33"/>
<text x="234.6" y="417.8" textLength="113.5" lengthAdjust="spacingAndGlyphs">t_dynamics::Heat</text>
<rect x="189.1" y="604.4" width="90.9" height="25.4" fill="#ffffff" stroke="#000" stroke-width="1.33"/>
<text x="234.6" y="620.4" textLength="68.3" lengthAdjust="spacingAndGlyphs">PntForLine</text>
<rect x="163.1" y="705.9" width="143.0" height="25.4" fill="#ffffff" stroke="#000" stroke-width="1.33"/>
<text x="234.6" y="721.9" textLength="120.4" lengthAdjust="spacingAndGlyphs">t_thermal::heating</text>
<rect x="203.2" y="756.6" width="62.9" height="25.4" fill="#ffffff" stroke="#000" stroke-width="1.33"/>
<text x="234.7" y="772.6" textLength="39.9" lengthAdjust="spacingAndGlyphs">linadd</text>
<rect x="205.2" y="831.4" width="58.9" height="25.2" fill="#ffffff" stroke="#000" stroke-width="1.33"/>
<text x="234.7" y="847.3" textLength="35.6" lengthAdjust="spacingAndGlyphs">lindst</text>
<rect x="209.0" y="881.9" width="51.0" height="25.4" fill="#ffffff" stroke="#000" stroke-width="1.33"/>
<text x="234.5" y="897.9" textLength="28.3" lengthAdjust="spacingAndGlyphs">max</text>
<rect x="211.0" y="932.5" width="47.3" height="25.5" fill="#ffffff" stroke="#000" stroke-width="1.33"/>
<text x="234.7" y="948.5" textLength="24.5" lengthAdjust="spacingAndGlyphs">min</text>
<rect x="195.6" y="983.1" width="77.8" height="25.4" fill="#ffffff" stroke="#000" stroke-width="1.33"/>
<text x="234.5" y="999.1" textLength="53.4" lengthAdjust="spacingAndGlyphs">safe_div</text>
<rect x="357.4" y="249.7" width="143.2" height="25.4" fill="#ffffff" stroke="#000" stroke-width="1.33"/>
<text x="429.0" y="265.7" textLength="119.6" lengthAdjust="spacingAndGlyphs">TransitionProxy::Hi</text>
<rect x="354.4" y="300.4" width="149.7" height="25.5" fill="#ffffff" stroke="#000" stroke-width="1.33"/>
<text x="429.2" y="316.4" textLength="125.3" lengthAdjust="spacingAndGlyphs">TransitionProxy::list</text>
<rect x="373.5" y="351.1" width="111.3" height="25.4" fill="#ffffff" stroke="#000" stroke-width="1.33"/>
<text x="429.1" y="367.1" textLength="90.2" lengthAdjust="spacingAndGlyphs">qList::chLabel</text>
<rect x="369.5" y="401.8" width="119.3" height="25.4" fill="#ffffff" stroke="#000" stroke-width="1.33"/>
<text x="429.1" y="417.8" textLength="95.0" lengthAdjust="spacingAndGlyphs">scalingDensity</text>
<rect x="375.7" y="553.5" width="107.0" height="25.6" fill="#ffffff" stroke="#000" stroke-width="1.33"/>
<text x="429.2" y="569.6" textLength="84.5" lengthAdjust="spacingAndGlyphs">ipLineEnergy</text>
<rect x="395.6" y="832.3" width="66.7" height="25.3" fill="#ffffff" stroke="#000" stroke-width="1.33"/>
<text x="429.0" y="848.2" textLength="43.2" lengthAdjust="spacingAndGlyphs">lincom</text>
<rect x="400.2" y="983.1" width="57.8" height="25.4" fill="#ffffff" stroke="#000" stroke-width="1.33"/>
<text x="429.1" y="999.1" textLength="35.1" lengthAdjust="spacingAndGlyphs">sign3</text>
<rect x="603.1" y="249.7" width="97.7" height="25.4" fill="#ffffff" stroke="#000" stroke-width="1.33"/>
<text x="652.0" y="265.7" textLength="76.1" lengthAdjust="spacingAndGlyphs">qList::begin</text>
<rect x="622.5" y="415.2" width="58.9" height="25.4" fill="#ffffff" stroke="#000" stroke-width="1.33"/>
<text x="652.0" y="431.2" textLength="36.8" lengthAdjust="spacingAndGlyphs">ipoint</text>
<rect x="571.1" y="705.9" width="161.6" height="25.4" fill="#ffffff" stroke="#000" stroke-width="1.33"/>
<text x="651.9" y="721.9" textLength="137.5" lengthAdjust="spacingAndGlyphs">TransitionProxy::Emis</text>
<rect x="590.3" y="756.6" width="123.2" height="25.4" fill="#ffffff" stroke="#000" stroke-width="1.33"/>
<text x="651.9" y="772.6" textLength="99.9" lengthAdjust="spacingAndGlyphs">t_LineSave::init</text>
<rect x="570.3" y="807.3" width="163.2" height="25.3" fill="#ffffff" stroke="#000" stroke-width="1.33"/>
<text x="651.9" y="823.2" textLength="139.4" lengthAdjust="spacingAndGlyphs">EmissionProxy::ipFine</text>
<rect x="593.0" y="858.0" width="117.7" height="25.4" fill="#ffffff" stroke="#000" stroke-width="1.33"/>
<text x="651.9" y="874.0" textLength="94.4" lengthAdjust="spacingAndGlyphs">t_mesh::widflx</text>
<rect x="600.3" y="908.6" width="103.2" height="25.4" fill="#ffffff" stroke="#000" stroke-width="1.33"/>
<text x="651.9" y="924.6" textLength="80.4" lengthAdjust="spacingAndGlyphs">t_mesh::anu</text>
<rect x="552.3" y="959.2" width="199.3" height="25.4" fill="#ffffff" stroke="#000" stroke-width="1.33"/>
<text x="652.0" y="975.2" textLength="175.8" lengthAdjust="spacingAndGlyphs">TransitionProxy::associated</text>
<rect x="593.5" y="1009.8" width="117.0" height="25.4" fill="#ffffff" stroke="#000" stroke-width="1.33"/>
<text x="652.0" y="1025.8" textLength="93.3" lengthAdjust="spacingAndGlyphs">emergent_line</text>
<rect x="827.7" y="202.0" width="123.1" height="25.3" fill="#ffffff" stroke="#000" stroke-width="1.33"/>
<text x="889.2" y="218.0" textLength="100.2" lengthAdjust="spacingAndGlyphs">t_mesh::ipointF</text>
<rect x="851.2" y="320.6" width="76.1" height="25.4" fill="#ffffff" stroke="#000" stroke-width="1.33"/>
<text x="889.2" y="336.6" textLength="54.3" lengthAdjust="spacingAndGlyphs">ShowMe</text>
<rect x="825.1" y="389.8" width="128.4" height="25.5" fill="#ffffff" stroke="#000" stroke-width="1.33"/>
<text x="889.3" y="405.9" textLength="105.9" lengthAdjust="spacingAndGlyphs">t_mesh::egamry</text>
<rect x="832.9" y="440.6" width="112.5" height="25.4" fill="#ffffff" stroke="#000" stroke-width="1.33"/>
<text x="889.1" y="456.6" textLength="89.3" lengthAdjust="spacingAndGlyphs">t_mesh::emm</text>
<rect x="831.0" y="655.4" width="116.6" height="25.4" fill="#ffffff" stroke="#000" stroke-width="1.33"/>
<text x="889.3" y="671.4" textLength="94.2" lengthAdjust="spacingAndGlyphs">StuffComment</text>
<rect x="802.4" y="705.9" width="174.0" height="25.4" fill="#ffffff" stroke="#000" stroke-width="1.33"/>
<text x="889.4" y="721.9" textLength="149.3" lengthAdjust="spacingAndGlyphs">TransitionProxy::ipEmis</text>
<rect x="800.4" y="756.6" width="178.0" height="25.4" fill="#ffffff" stroke="#000" stroke-width="1.33"/>
<text x="889.4" y="772.6" textLength="155.0" lengthAdjust="spacingAndGlyphs">t_LineSave::wavelength</text>
<rect x="1044.4" y="31.3" width="124.3" height="25.3" fill="#ffffff" stroke="#000" stroke-width="1.33"/>
<text x="1106.6" y="47.2" textLength="101.8" lengthAdjust="spacingAndGlyphs">t_mesh::ipointC</text>
<rect x="1043.1" y="132.6" width="127.1" height="25.4" fill="#ffffff" stroke="#000" stroke-width="1.33"/>
<text x="1106.7" y="148.6" textLength="103.5" lengthAdjust="spacingAndGlyphs">findspecieslocal</text>
<rect x="1027.2" y="234.4" width="158.9" height="40.2" fill="#ffffff" stroke="#000" stroke-width="1.33"/>
<text x="1105.8" y="251.4" textLength="135.4" lengthAdjust="spacingAndGlyphs">Singleton&lt; t_version</text>
<text x="1108.4" y="264.7" textLength="43.6" lengthAdjust="spacingAndGlyphs">&gt;::Inst</text>
<rect x="1041.1" y="300.6" width="131.0" height="25.4" fill="#ffffff" stroke="#000" stroke-width="1.33"/>
<text x="1106.6" y="316.6" textLength="109.9" lengthAdjust="spacingAndGlyphs">t_ran::print_seed</text>
<rect x="1057.4" y="351.3" width="98.0" height="25.3" fill="#ffffff" stroke="#000" stroke-width="1.33"/>
<text x="1106.4" y="367.3" textLength="75.6" lengthAdjust="spacingAndGlyphs">cdWarnings</text>
<rect x="1059.0" y="402.0" width="95.1" height="25.3" fill="#ffffff" stroke="#000" stroke-width="1.33"/>
<text x="1106.5" y="417.9" textLength="72.3" lengthAdjust="spacingAndGlyphs">cdCautions</text>
<rect x="1035.5" y="452.6" width="142.0" height="25.4" fill="#ffffff" stroke="#000" stroke-width="1.33"/>
<text x="1106.5" y="468.6" textLength="118.8" lengthAdjust="spacingAndGlyphs">cdPrintCommands</text>
<rect x="1266.9" y="5.5" width="97.9" height="25.8" fill="#ffffff" stroke="#000" stroke-width="1.33"/>
<text x="1315.8" y="21.7" textLength="75.2" lengthAdjust="spacingAndGlyphs">hunt_bisect</text>
<rect x="1234.4" y="56.6" width="163.2" height="25.4" fill="#ffffff" stroke="#000" stroke-width="1.33"/>
<text x="1316.0" y="72.6" textLength="141.2" lengthAdjust="spacingAndGlyphs">t_mesh::lgMeshSetUp</text>
<rect x="1268.2" y="132.6" width="95.4" height="25.4" fill="#ffffff" stroke="#000" stroke-width="1.33"/>
<text x="1315.9" y="148.6" textLength="73.2" lengthAdjust="spacingAndGlyphs">findspecies</text>
<rect x="1284.3" y="292.5" width="63.0" height="25.4" fill="#ffffff" stroke="#000" stroke-width="1.33"/>
<text x="1315.8" y="308.5" textLength="39.7" lengthAdjust="spacingAndGlyphs">fprintf</text>
<rect x="1284.4" y="452.6" width="63.0" height="25.4" fill="#ffffff" stroke="#000" stroke-width="1.33"/>
<text x="1315.9" y="468.6" textLength="39.7" lengthAdjust="spacingAndGlyphs">fprintf</text>
<rect x="1445.5" y="372.4" width="98.2" height="25.5" fill="#ffffff" stroke="#000" stroke-width="1.33"/>
<text x="1494.6" y="388.4" textLength="77.2" lengthAdjust="spacingAndGlyphs">Output::fptr</text>
</g></svg></body></html>
